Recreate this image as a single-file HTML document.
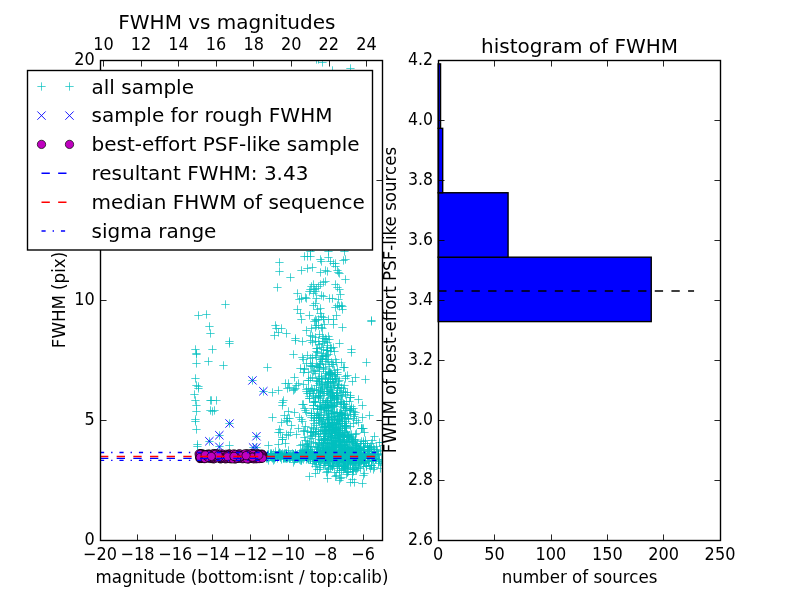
<!DOCTYPE html>
<html><head><meta charset="utf-8"><title>FWHM vs magnitudes</title>
<style>html,body{margin:0;padding:0;background:#fff;overflow:hidden}svg{display:block;will-change:transform}</style></head>
<body>
<svg width="800" height="600" viewBox="0 0 800 600" style="display:block">
<rect x="0" y="0" width="800" height="600" fill="#ffffff"/>
<defs>
<clipPath id="c1"><rect x="100.00" y="60.00" width="281.82" height="480.00"/></clipPath>
<clipPath id="c2"><rect x="438.18" y="60.00" width="281.82" height="480.00"/></clipPath>
<path id="pl" d="M-4.17 0H4.17M0 -4.17V4.17"/>
<path id="xx" d="M-4.17 -4.17L4.17 4.17M-4.17 4.17L4.17 -4.17"/>
<circle id="oo" r="4.17"/>
</defs>
<g clip-path="url(#c1)">
<path d="M319.3 436.5h8.3M323.5 432.3v8.3M315.3 444.5h8.3M319.5 440.3v8.3M333.3 420.5h8.3M337.5 416.3v8.3M362.3 362.5h8.3M366.5 358.3v8.3M327.3 390.5h8.3M331.5 386.3v8.3M324.3 395.5h8.3M328.5 391.3v8.3M329.3 430.5h8.3M333.5 426.3v8.3M336.3 392.5h8.3M340.5 388.3v8.3M337.3 414.5h8.3M341.5 410.3v8.3M340.3 413.5h8.3M344.5 409.3v8.3M328.3 422.5h8.3M332.5 418.3v8.3M344.3 455.5h8.3M348.5 451.3v8.3M299.3 359.5h8.3M303.5 355.3v8.3M308.3 435.5h8.3M312.5 431.3v8.3M341.3 457.5h8.3M345.5 453.3v8.3M305.3 393.5h8.3M309.5 389.3v8.3M338.3 452.5h8.3M342.5 448.3v8.3M320.3 324.5h8.3M324.5 320.3v8.3M324.3 374.5h8.3M328.5 370.3v8.3M334.3 427.5h8.3M338.5 423.3v8.3M336.3 457.5h8.3M340.5 453.3v8.3M339.3 458.5h8.3M343.5 454.3v8.3M322.3 408.5h8.3M326.5 404.3v8.3M330.3 438.5h8.3M334.5 434.3v8.3M365.3 415.5h8.3M369.5 411.3v8.3M341.3 408.5h8.3M345.5 404.3v8.3M332.3 395.5h8.3M336.5 391.3v8.3M334.3 423.5h8.3M338.5 419.3v8.3M312.3 348.5h8.3M316.5 344.3v8.3M333.3 433.5h8.3M337.5 429.3v8.3M329.3 459.5h8.3M333.5 455.3v8.3M343.3 434.5h8.3M347.5 430.3v8.3M319.3 446.5h8.3M323.5 442.3v8.3M299.3 431.5h8.3M303.5 427.3v8.3M324.3 452.5h8.3M328.5 448.3v8.3M337.3 415.5h8.3M341.5 411.3v8.3M338.3 327.5h8.3M342.5 323.3v8.3M339.3 404.5h8.3M343.5 400.3v8.3M313.3 381.5h8.3M317.5 377.3v8.3M326.3 427.5h8.3M330.5 423.3v8.3M320.3 458.5h8.3M324.5 454.3v8.3M323.3 400.5h8.3M327.5 396.3v8.3M319.3 447.5h8.3M323.5 443.3v8.3M309.3 431.5h8.3M313.5 427.3v8.3M322.3 339.5h8.3M326.5 335.3v8.3M327.3 393.5h8.3M331.5 389.3v8.3M322.3 385.5h8.3M326.5 381.3v8.3M336.3 442.5h8.3M340.5 438.3v8.3M354.3 422.5h8.3M358.5 418.3v8.3M331.3 432.5h8.3M335.5 428.3v8.3M325.3 436.5h8.3M329.5 432.3v8.3M337.3 401.5h8.3M341.5 397.3v8.3M310.3 455.5h8.3M314.5 451.3v8.3M337.3 413.5h8.3M341.5 409.3v8.3M319.3 436.5h8.3M323.5 432.3v8.3M322.3 359.5h8.3M326.5 355.3v8.3M343.3 392.5h8.3M347.5 388.3v8.3M319.3 419.5h8.3M323.5 415.3v8.3M343.3 435.5h8.3M347.5 431.3v8.3M335.3 434.5h8.3M339.5 430.3v8.3M312.3 446.5h8.3M316.5 442.3v8.3M340.3 423.5h8.3M344.5 419.3v8.3M314.3 378.5h8.3M318.5 374.3v8.3M306.3 365.5h8.3M310.5 361.3v8.3M317.3 407.5h8.3M321.5 403.3v8.3M321.3 440.5h8.3M325.5 436.3v8.3M338.3 433.5h8.3M342.5 429.3v8.3M320.3 438.5h8.3M324.5 434.3v8.3M346.3 410.5h8.3M350.5 406.3v8.3M331.3 416.5h8.3M335.5 412.3v8.3M322.3 454.5h8.3M326.5 450.3v8.3M319.3 443.5h8.3M323.5 439.3v8.3M328.3 396.5h8.3M332.5 392.3v8.3M304.3 452.5h8.3M308.5 448.3v8.3M300.3 437.5h8.3M304.5 433.3v8.3M318.3 430.5h8.3M322.5 426.3v8.3M340.3 445.5h8.3M344.5 441.3v8.3M330.3 419.5h8.3M334.5 415.3v8.3M333.3 458.5h8.3M337.5 454.3v8.3M318.3 356.5h8.3M322.5 352.3v8.3M328.3 456.5h8.3M332.5 452.3v8.3M304.3 380.5h8.3M308.5 376.3v8.3M343.3 447.5h8.3M347.5 443.3v8.3M326.3 400.5h8.3M330.5 396.3v8.3M330.3 397.5h8.3M334.5 393.3v8.3M324.3 354.5h8.3M328.5 350.3v8.3M335.3 450.5h8.3M339.5 446.3v8.3M336.3 445.5h8.3M340.5 441.3v8.3M321.3 423.5h8.3M325.5 419.3v8.3M307.3 366.5h8.3M311.5 362.3v8.3M325.3 366.5h8.3M329.5 362.3v8.3M341.3 392.5h8.3M345.5 388.3v8.3M344.3 436.5h8.3M348.5 432.3v8.3M323.3 402.5h8.3M327.5 398.3v8.3M335.3 415.5h8.3M339.5 411.3v8.3M327.3 458.5h8.3M331.5 454.3v8.3M334.3 429.5h8.3M338.5 425.3v8.3M313.3 352.5h8.3M317.5 348.3v8.3M328.3 407.5h8.3M332.5 403.3v8.3M359.3 443.5h8.3M363.5 439.3v8.3M354.3 459.5h8.3M358.5 455.3v8.3M316.3 387.5h8.3M320.5 383.3v8.3M314.3 367.5h8.3M318.5 363.3v8.3M327.3 413.5h8.3M331.5 409.3v8.3M340.3 455.5h8.3M344.5 451.3v8.3M329.3 454.5h8.3M333.5 450.3v8.3M339.3 406.5h8.3M343.5 402.3v8.3M317.3 376.5h8.3M321.5 372.3v8.3M351.3 451.5h8.3M355.5 447.3v8.3M342.3 431.5h8.3M346.5 427.3v8.3M311.3 397.5h8.3M315.5 393.3v8.3M339.3 439.5h8.3M343.5 435.3v8.3M327.3 440.5h8.3M331.5 436.3v8.3M341.3 418.5h8.3M345.5 414.3v8.3M320.3 412.5h8.3M324.5 408.3v8.3M336.3 428.5h8.3M340.5 424.3v8.3M306.3 449.5h8.3M310.5 445.3v8.3M330.3 419.5h8.3M334.5 415.3v8.3M327.3 422.5h8.3M331.5 418.3v8.3M342.3 425.5h8.3M346.5 421.3v8.3M333.3 438.5h8.3M337.5 434.3v8.3M310.3 401.5h8.3M314.5 397.3v8.3M323.3 350.5h8.3M327.5 346.3v8.3M320.3 438.5h8.3M324.5 434.3v8.3M324.3 407.5h8.3M328.5 403.3v8.3M314.3 341.5h8.3M318.5 337.3v8.3M333.3 419.5h8.3M337.5 415.3v8.3M306.3 340.5h8.3M310.5 336.3v8.3M315.3 439.5h8.3M319.5 435.3v8.3M301.3 426.5h8.3M305.5 422.3v8.3M357.3 428.5h8.3M361.5 424.3v8.3M315.3 417.5h8.3M319.5 413.3v8.3M312.3 365.5h8.3M316.5 361.3v8.3M314.3 436.5h8.3M318.5 432.3v8.3M323.3 449.5h8.3M327.5 445.3v8.3M315.3 344.5h8.3M319.5 340.3v8.3M330.3 376.5h8.3M334.5 372.3v8.3M335.3 458.5h8.3M339.5 454.3v8.3M330.3 402.5h8.3M334.5 398.3v8.3M312.3 325.5h8.3M316.5 321.3v8.3M327.3 417.5h8.3M331.5 413.3v8.3M347.3 437.5h8.3M351.5 433.3v8.3M324.3 387.5h8.3M328.5 383.3v8.3M329.3 395.5h8.3M333.5 391.3v8.3M303.3 443.5h8.3M307.5 439.3v8.3M338.3 439.5h8.3M342.5 435.3v8.3M334.3 435.5h8.3M338.5 431.3v8.3M348.3 439.5h8.3M352.5 435.3v8.3M333.3 458.5h8.3M337.5 454.3v8.3M328.3 428.5h8.3M332.5 424.3v8.3M326.3 397.5h8.3M330.5 393.3v8.3M323.3 450.5h8.3M327.5 446.3v8.3M328.3 396.5h8.3M332.5 392.3v8.3M337.3 421.5h8.3M341.5 417.3v8.3M330.3 435.5h8.3M334.5 431.3v8.3M318.3 361.5h8.3M322.5 357.3v8.3M323.3 419.5h8.3M327.5 415.3v8.3M327.3 405.5h8.3M331.5 401.3v8.3M320.3 426.5h8.3M324.5 422.3v8.3M300.3 368.5h8.3M304.5 364.3v8.3M346.3 426.5h8.3M350.5 422.3v8.3M308.3 455.5h8.3M312.5 451.3v8.3M329.3 441.5h8.3M333.5 437.3v8.3M314.3 452.5h8.3M318.5 448.3v8.3M327.3 446.5h8.3M331.5 442.3v8.3M317.3 440.5h8.3M321.5 436.3v8.3M330.3 444.5h8.3M334.5 440.3v8.3M315.3 406.5h8.3M319.5 402.3v8.3M313.3 447.5h8.3M317.5 443.3v8.3M336.3 451.5h8.3M340.5 447.3v8.3M351.3 457.5h8.3M355.5 453.3v8.3M323.3 350.5h8.3M327.5 346.3v8.3M330.3 430.5h8.3M334.5 426.3v8.3M313.3 409.5h8.3M317.5 405.3v8.3M325.3 405.5h8.3M329.5 401.3v8.3M338.3 455.5h8.3M342.5 451.3v8.3M320.3 424.5h8.3M324.5 420.3v8.3M340.3 425.5h8.3M344.5 421.3v8.3M331.3 455.5h8.3M335.5 451.3v8.3M335.3 441.5h8.3M339.5 437.3v8.3M319.3 400.5h8.3M323.5 396.3v8.3M317.3 379.5h8.3M321.5 375.3v8.3M301.3 184.5h8.3M305.5 180.3v8.3M332.3 423.5h8.3M336.5 419.3v8.3M314.3 417.5h8.3M318.5 413.3v8.3M319.3 427.5h8.3M323.5 423.3v8.3M330.3 444.5h8.3M334.5 440.3v8.3M304.3 388.5h8.3M308.5 384.3v8.3M332.3 362.5h8.3M336.5 358.3v8.3M335.3 441.5h8.3M339.5 437.3v8.3M331.3 444.5h8.3M335.5 440.3v8.3M320.3 439.5h8.3M324.5 435.3v8.3M337.3 414.5h8.3M341.5 410.3v8.3M352.3 420.5h8.3M356.5 416.3v8.3M337.3 452.5h8.3M341.5 448.3v8.3M309.3 420.5h8.3M313.5 416.3v8.3M332.3 393.5h8.3M336.5 389.3v8.3M322.3 431.5h8.3M326.5 427.3v8.3M324.3 448.5h8.3M328.5 444.3v8.3M325.3 423.5h8.3M329.5 419.3v8.3M327.3 427.5h8.3M331.5 423.3v8.3M330.3 413.5h8.3M334.5 409.3v8.3M331.3 378.5h8.3M335.5 374.3v8.3M337.3 446.5h8.3M341.5 442.3v8.3M320.3 430.5h8.3M324.5 426.3v8.3M310.3 418.5h8.3M314.5 414.3v8.3M314.3 396.5h8.3M318.5 392.3v8.3M332.3 422.5h8.3M336.5 418.3v8.3M332.3 378.5h8.3M336.5 374.3v8.3M350.3 414.5h8.3M354.5 410.3v8.3M313.3 457.5h8.3M317.5 453.3v8.3M318.3 336.5h8.3M322.5 332.3v8.3M327.3 442.5h8.3M331.5 438.3v8.3M316.3 363.5h8.3M320.5 359.3v8.3M319.3 338.5h8.3M323.5 334.3v8.3M327.3 445.5h8.3M331.5 441.3v8.3M328.3 456.5h8.3M332.5 452.3v8.3M320.3 433.5h8.3M324.5 429.3v8.3M335.3 440.5h8.3M339.5 436.3v8.3M338.3 396.5h8.3M342.5 392.3v8.3M347.3 406.5h8.3M351.5 402.3v8.3M323.3 443.5h8.3M327.5 439.3v8.3M317.3 455.5h8.3M321.5 451.3v8.3M324.3 420.5h8.3M328.5 416.3v8.3M319.3 443.5h8.3M323.5 439.3v8.3M333.3 369.5h8.3M337.5 365.3v8.3M314.3 396.5h8.3M318.5 392.3v8.3M331.3 445.5h8.3M335.5 441.3v8.3M309.3 405.5h8.3M313.5 401.3v8.3M324.3 434.5h8.3M328.5 430.3v8.3M308.3 247.5h8.3M312.5 243.3v8.3M352.3 445.5h8.3M356.5 441.3v8.3M315.3 378.5h8.3M319.5 374.3v8.3M330.3 399.5h8.3M334.5 395.3v8.3M301.3 440.5h8.3M305.5 436.3v8.3M314.3 448.5h8.3M318.5 444.3v8.3M318.3 424.5h8.3M322.5 420.3v8.3M323.3 443.5h8.3M327.5 439.3v8.3M335.3 420.5h8.3M339.5 416.3v8.3M306.3 432.5h8.3M310.5 428.3v8.3M329.3 382.5h8.3M333.5 378.3v8.3M308.3 357.5h8.3M312.5 353.3v8.3M350.3 416.5h8.3M354.5 412.3v8.3M332.3 429.5h8.3M336.5 425.3v8.3M332.3 440.5h8.3M336.5 436.3v8.3M324.3 411.5h8.3M328.5 407.3v8.3M319.3 349.5h8.3M323.5 345.3v8.3M331.3 452.5h8.3M335.5 448.3v8.3M312.3 357.5h8.3M316.5 353.3v8.3M330.3 370.5h8.3M334.5 366.3v8.3M333.3 435.5h8.3M337.5 431.3v8.3M340.3 441.5h8.3M344.5 437.3v8.3M328.3 432.5h8.3M332.5 428.3v8.3M335.3 413.5h8.3M339.5 409.3v8.3M319.3 440.5h8.3M323.5 436.3v8.3M361.3 379.5h8.3M365.5 375.3v8.3M322.3 455.5h8.3M326.5 451.3v8.3M318.3 382.5h8.3M322.5 378.3v8.3M345.3 453.5h8.3M349.5 449.3v8.3M342.3 408.5h8.3M346.5 404.3v8.3M307.3 446.5h8.3M311.5 442.3v8.3M309.3 395.5h8.3M313.5 391.3v8.3M318.3 453.5h8.3M322.5 449.3v8.3M316.3 406.5h8.3M320.5 402.3v8.3M328.3 446.5h8.3M332.5 442.3v8.3M346.3 458.5h8.3M350.5 454.3v8.3M321.3 429.5h8.3M325.5 425.3v8.3M338.3 450.5h8.3M342.5 446.3v8.3M341.3 432.5h8.3M345.5 428.3v8.3M350.3 443.5h8.3M354.5 439.3v8.3M328.3 444.5h8.3M332.5 440.3v8.3M311.3 337.5h8.3M315.5 333.3v8.3M340.3 437.5h8.3M344.5 433.3v8.3M341.3 394.5h8.3M345.5 390.3v8.3M319.3 408.5h8.3M323.5 404.3v8.3M351.3 412.5h8.3M355.5 408.3v8.3M355.3 452.5h8.3M359.5 448.3v8.3M327.3 449.5h8.3M331.5 445.3v8.3M307.3 432.5h8.3M311.5 428.3v8.3M315.3 367.5h8.3M319.5 363.3v8.3M321.3 404.5h8.3M325.5 400.3v8.3M332.3 398.5h8.3M336.5 394.3v8.3M307.3 427.5h8.3M311.5 423.3v8.3M358.3 417.5h8.3M362.5 413.3v8.3M363.3 445.5h8.3M367.5 441.3v8.3M316.3 391.5h8.3M320.5 387.3v8.3M306.3 459.5h8.3M310.5 455.3v8.3M318.3 358.5h8.3M322.5 354.3v8.3M336.3 441.5h8.3M340.5 437.3v8.3M313.3 203.5h8.3M317.5 199.3v8.3M334.3 397.5h8.3M338.5 393.3v8.3M319.3 368.5h8.3M323.5 364.3v8.3M302.3 389.5h8.3M306.5 385.3v8.3M333.3 416.5h8.3M337.5 412.3v8.3M325.3 339.5h8.3M329.5 335.3v8.3M320.3 386.5h8.3M324.5 382.3v8.3M320.3 341.5h8.3M324.5 337.3v8.3M330.3 424.5h8.3M334.5 420.3v8.3M326.3 437.5h8.3M330.5 433.3v8.3M308.3 342.5h8.3M312.5 338.3v8.3M330.3 406.5h8.3M334.5 402.3v8.3M339.3 391.5h8.3M343.5 387.3v8.3M316.3 433.5h8.3M320.5 429.3v8.3M328.3 379.5h8.3M332.5 375.3v8.3M316.3 392.5h8.3M320.5 388.3v8.3M330.3 404.5h8.3M334.5 400.3v8.3M324.3 419.5h8.3M328.5 415.3v8.3M338.3 451.5h8.3M342.5 447.3v8.3M314.3 397.5h8.3M318.5 393.3v8.3M308.3 451.5h8.3M312.5 447.3v8.3M325.3 430.5h8.3M329.5 426.3v8.3M309.3 428.5h8.3M313.5 424.3v8.3M313.3 366.5h8.3M317.5 362.3v8.3M306.3 436.5h8.3M310.5 432.3v8.3M329.3 425.5h8.3M333.5 421.3v8.3M323.3 423.5h8.3M327.5 419.3v8.3M323.3 382.5h8.3M327.5 378.3v8.3M351.3 377.5h8.3M355.5 373.3v8.3M334.3 454.5h8.3M338.5 450.3v8.3M328.3 392.5h8.3M332.5 388.3v8.3M330.3 385.5h8.3M334.5 381.3v8.3M329.3 454.5h8.3M333.5 450.3v8.3M311.3 327.5h8.3M315.5 323.3v8.3M326.3 347.5h8.3M330.5 343.3v8.3M341.3 425.5h8.3M345.5 421.3v8.3M329.3 454.5h8.3M333.5 450.3v8.3M322.3 410.5h8.3M326.5 406.3v8.3M315.3 371.5h8.3M319.5 367.3v8.3M346.3 436.5h8.3M350.5 432.3v8.3M318.3 391.5h8.3M322.5 387.3v8.3M333.3 388.5h8.3M337.5 384.3v8.3M321.3 426.5h8.3M325.5 422.3v8.3M324.3 439.5h8.3M328.5 435.3v8.3M336.3 412.5h8.3M340.5 408.3v8.3M315.3 383.5h8.3M319.5 379.3v8.3M327.3 440.5h8.3M331.5 436.3v8.3M316.3 451.5h8.3M320.5 447.3v8.3M318.3 450.5h8.3M322.5 446.3v8.3M338.3 430.5h8.3M342.5 426.3v8.3M339.3 453.5h8.3M343.5 449.3v8.3M314.3 442.5h8.3M318.5 438.3v8.3M315.3 455.5h8.3M319.5 451.3v8.3M358.3 405.5h8.3M362.5 401.3v8.3M319.3 417.5h8.3M323.5 413.3v8.3M316.3 418.5h8.3M320.5 414.3v8.3M338.3 449.5h8.3M342.5 445.3v8.3M319.3 442.5h8.3M323.5 438.3v8.3M326.3 449.5h8.3M330.5 445.3v8.3M342.3 441.5h8.3M346.5 437.3v8.3M343.3 435.5h8.3M347.5 431.3v8.3M326.3 435.5h8.3M330.5 431.3v8.3M348.3 441.5h8.3M352.5 437.3v8.3M329.3 456.5h8.3M333.5 452.3v8.3M325.3 430.5h8.3M329.5 426.3v8.3M331.3 450.5h8.3M335.5 446.3v8.3M327.3 454.5h8.3M331.5 450.3v8.3M333.3 412.5h8.3M337.5 408.3v8.3M333.3 435.5h8.3M337.5 431.3v8.3M311.3 341.5h8.3M315.5 337.3v8.3M331.3 429.5h8.3M335.5 425.3v8.3M317.3 384.5h8.3M321.5 380.3v8.3M323.3 456.5h8.3M327.5 452.3v8.3M328.3 447.5h8.3M332.5 443.3v8.3M334.3 384.5h8.3M338.5 380.3v8.3M332.3 428.5h8.3M336.5 424.3v8.3M343.3 415.5h8.3M347.5 411.3v8.3M354.3 459.5h8.3M358.5 455.3v8.3M319.3 355.5h8.3M323.5 351.3v8.3M317.3 389.5h8.3M321.5 385.3v8.3M319.3 440.5h8.3M323.5 436.3v8.3M334.3 442.5h8.3M338.5 438.3v8.3M333.3 388.5h8.3M337.5 384.3v8.3M352.3 446.5h8.3M356.5 442.3v8.3M308.3 377.5h8.3M312.5 373.3v8.3M340.3 426.5h8.3M344.5 422.3v8.3M339.3 407.5h8.3M343.5 403.3v8.3M359.3 428.5h8.3M363.5 424.3v8.3M331.3 455.5h8.3M335.5 451.3v8.3M307.3 413.5h8.3M311.5 409.3v8.3M317.3 417.5h8.3M321.5 413.3v8.3M307.3 328.5h8.3M311.5 324.3v8.3M310.3 370.5h8.3M314.5 366.3v8.3M317.3 427.5h8.3M321.5 423.3v8.3M305.3 398.5h8.3M309.5 394.3v8.3M321.3 373.5h8.3M325.5 369.3v8.3M324.3 361.5h8.3M328.5 357.3v8.3M341.3 446.5h8.3M345.5 442.3v8.3M323.3 391.5h8.3M327.5 387.3v8.3M344.3 437.5h8.3M348.5 433.3v8.3M345.3 440.5h8.3M349.5 436.3v8.3M309.3 442.5h8.3M313.5 438.3v8.3M324.3 422.5h8.3M328.5 418.3v8.3M312.3 380.5h8.3M316.5 376.3v8.3M331.3 431.5h8.3M335.5 427.3v8.3M324.3 406.5h8.3M328.5 402.3v8.3M329.3 324.5h8.3M333.5 320.3v8.3M359.3 447.5h8.3M363.5 443.3v8.3M337.3 453.5h8.3M341.5 449.3v8.3M324.3 413.5h8.3M328.5 409.3v8.3M327.3 433.5h8.3M331.5 429.3v8.3M323.3 342.5h8.3M327.5 338.3v8.3M316.3 395.5h8.3M320.5 391.3v8.3M339.3 448.5h8.3M343.5 444.3v8.3M325.3 429.5h8.3M329.5 425.3v8.3M333.3 374.5h8.3M337.5 370.3v8.3M349.3 442.5h8.3M353.5 438.3v8.3M355.3 450.5h8.3M359.5 446.3v8.3M325.3 418.5h8.3M329.5 414.3v8.3M310.3 415.5h8.3M314.5 411.3v8.3M308.3 457.5h8.3M312.5 453.3v8.3M325.3 427.5h8.3M329.5 423.3v8.3M310.3 423.5h8.3M314.5 419.3v8.3M306.3 391.5h8.3M310.5 387.3v8.3M327.3 455.5h8.3M331.5 451.3v8.3M311.3 373.5h8.3M315.5 369.3v8.3M339.3 436.5h8.3M343.5 432.3v8.3M346.3 395.5h8.3M350.5 391.3v8.3M327.3 440.5h8.3M331.5 436.3v8.3M321.3 338.5h8.3M325.5 334.3v8.3M307.3 388.5h8.3M311.5 384.3v8.3M335.3 459.5h8.3M339.5 455.3v8.3M321.3 447.5h8.3M325.5 443.3v8.3M314.3 420.5h8.3M318.5 416.3v8.3M306.3 459.5h8.3M310.5 455.3v8.3M339.3 367.5h8.3M343.5 363.3v8.3M310.3 459.5h8.3M314.5 455.3v8.3M315.3 454.5h8.3M319.5 450.3v8.3M317.3 327.5h8.3M321.5 323.3v8.3M323.3 359.5h8.3M327.5 355.3v8.3M326.3 378.5h8.3M330.5 374.3v8.3M331.3 435.5h8.3M335.5 431.3v8.3M315.3 395.5h8.3M319.5 391.3v8.3M337.3 417.5h8.3M341.5 413.3v8.3M309.3 393.5h8.3M313.5 389.3v8.3M352.3 433.5h8.3M356.5 429.3v8.3M334.3 385.5h8.3M338.5 381.3v8.3M309.3 432.5h8.3M313.5 428.3v8.3M308.3 366.5h8.3M312.5 362.3v8.3M318.3 402.5h8.3M322.5 398.3v8.3M323.3 459.5h8.3M327.5 455.3v8.3M331.3 359.5h8.3M335.5 355.3v8.3M307.3 417.5h8.3M311.5 413.3v8.3M326.3 387.5h8.3M330.5 383.3v8.3M291.3 189.5h8.3M295.5 185.3v8.3M337.3 434.5h8.3M341.5 430.3v8.3M331.3 427.5h8.3M335.5 423.3v8.3M322.3 431.5h8.3M326.5 427.3v8.3M360.3 432.5h8.3M364.5 428.3v8.3M330.3 447.5h8.3M334.5 443.3v8.3M346.3 447.5h8.3M350.5 443.3v8.3M312.3 429.5h8.3M316.5 425.3v8.3M318.3 343.5h8.3M322.5 339.3v8.3M324.3 381.5h8.3M328.5 377.3v8.3M334.3 457.5h8.3M338.5 453.3v8.3M317.3 359.5h8.3M321.5 355.3v8.3M316.3 409.5h8.3M320.5 405.3v8.3M291.3 340.5h8.3M295.5 336.3v8.3M315.3 364.5h8.3M319.5 360.3v8.3M318.3 445.5h8.3M322.5 441.3v8.3M329.3 456.5h8.3M333.5 452.3v8.3M343.3 451.5h8.3M347.5 447.3v8.3M354.3 399.5h8.3M358.5 395.3v8.3M335.3 421.5h8.3M339.5 417.3v8.3M344.3 437.5h8.3M348.5 433.3v8.3M341.3 456.5h8.3M345.5 452.3v8.3M341.3 444.5h8.3M345.5 440.3v8.3M328.3 364.5h8.3M332.5 360.3v8.3M322.3 391.5h8.3M326.5 387.3v8.3M327.3 453.5h8.3M331.5 449.3v8.3M337.3 456.5h8.3M341.5 452.3v8.3M358.3 459.5h8.3M362.5 455.3v8.3M338.3 423.5h8.3M342.5 419.3v8.3M349.3 423.5h8.3M353.5 419.3v8.3M309.3 402.5h8.3M313.5 398.3v8.3M335.3 445.5h8.3M339.5 441.3v8.3M336.3 440.5h8.3M340.5 436.3v8.3M329.3 383.5h8.3M333.5 379.3v8.3M309.3 405.5h8.3M313.5 401.3v8.3M305.3 441.5h8.3M309.5 437.3v8.3M299.3 372.5h8.3M303.5 368.3v8.3M324.3 426.5h8.3M328.5 422.3v8.3M365.3 453.5h8.3M369.5 449.3v8.3M325.3 374.5h8.3M329.5 370.3v8.3M314.3 431.5h8.3M318.5 427.3v8.3M328.3 392.5h8.3M332.5 388.3v8.3M324.3 414.5h8.3M328.5 410.3v8.3M318.3 328.5h8.3M322.5 324.3v8.3M316.3 359.5h8.3M320.5 355.3v8.3M306.3 358.5h8.3M310.5 354.3v8.3M323.3 440.5h8.3M327.5 436.3v8.3M324.3 336.5h8.3M328.5 332.3v8.3M334.3 436.5h8.3M338.5 432.3v8.3M350.3 457.5h8.3M354.5 453.3v8.3M315.3 422.5h8.3M319.5 418.3v8.3M342.3 421.5h8.3M346.5 417.3v8.3M332.3 447.5h8.3M336.5 443.3v8.3M324.3 371.5h8.3M328.5 367.3v8.3M342.3 401.5h8.3M346.5 397.3v8.3M323.3 391.5h8.3M327.5 387.3v8.3M334.3 434.5h8.3M338.5 430.3v8.3M332.3 395.5h8.3M336.5 391.3v8.3M339.3 436.5h8.3M343.5 432.3v8.3M337.3 404.5h8.3M341.5 400.3v8.3M349.3 439.5h8.3M353.5 435.3v8.3M333.3 399.5h8.3M337.5 395.3v8.3M323.3 417.5h8.3M327.5 413.3v8.3M347.3 352.5h8.3M351.5 348.3v8.3M327.3 413.5h8.3M331.5 409.3v8.3M335.3 432.5h8.3M339.5 428.3v8.3M316.3 398.5h8.3M320.5 394.3v8.3M302.3 452.5h8.3M306.5 448.3v8.3M317.3 409.5h8.3M321.5 405.3v8.3M324.3 379.5h8.3M328.5 375.3v8.3M339.3 442.5h8.3M343.5 438.3v8.3M328.3 412.5h8.3M332.5 408.3v8.3M333.3 387.5h8.3M337.5 383.3v8.3M312.3 213.5h8.3M316.5 209.3v8.3M344.3 436.5h8.3M348.5 432.3v8.3M326.3 394.5h8.3M330.5 390.3v8.3M329.3 411.5h8.3M333.5 407.3v8.3M316.3 405.5h8.3M320.5 401.3v8.3M351.3 440.5h8.3M355.5 436.3v8.3M309.3 371.5h8.3M313.5 367.3v8.3M331.3 446.5h8.3M335.5 442.3v8.3M330.3 406.5h8.3M334.5 402.3v8.3M298.3 357.5h8.3M302.5 353.3v8.3M338.3 414.5h8.3M342.5 410.3v8.3M325.3 372.5h8.3M329.5 368.3v8.3M319.3 369.5h8.3M323.5 365.3v8.3M311.3 431.5h8.3M315.5 427.3v8.3M326.3 389.5h8.3M330.5 385.3v8.3M335.3 380.5h8.3M339.5 376.3v8.3M307.3 415.5h8.3M311.5 411.3v8.3M329.3 347.5h8.3M333.5 343.3v8.3M344.3 453.5h8.3M348.5 449.3v8.3M333.3 387.5h8.3M337.5 383.3v8.3M336.3 430.5h8.3M340.5 426.3v8.3M321.3 433.5h8.3M325.5 429.3v8.3M335.3 419.5h8.3M339.5 415.3v8.3M325.3 426.5h8.3M329.5 422.3v8.3M372.3 446.5h8.3M376.5 442.3v8.3M328.3 437.5h8.3M332.5 433.3v8.3M312.3 385.5h8.3M316.5 381.3v8.3M323.3 407.5h8.3M327.5 403.3v8.3M351.3 439.5h8.3M355.5 435.3v8.3M326.3 460.5h8.3M330.5 456.3v8.3M296.3 368.5h8.3M300.5 364.3v8.3M353.3 454.5h8.3M357.5 450.3v8.3M337.3 447.5h8.3M341.5 443.3v8.3M324.3 436.5h8.3M328.5 432.3v8.3M340.3 432.5h8.3M344.5 428.3v8.3M313.3 413.5h8.3M317.5 409.3v8.3M322.3 415.5h8.3M326.5 411.3v8.3M326.3 351.5h8.3M330.5 347.3v8.3M332.3 445.5h8.3M336.5 441.3v8.3M335.3 458.5h8.3M339.5 454.3v8.3M304.3 447.5h8.3M308.5 443.3v8.3M329.3 364.5h8.3M333.5 360.3v8.3M323.3 426.5h8.3M327.5 422.3v8.3M340.3 417.5h8.3M344.5 413.3v8.3M330.3 416.5h8.3M334.5 412.3v8.3M353.3 453.5h8.3M357.5 449.3v8.3M322.3 401.5h8.3M326.5 397.3v8.3M301.3 410.5h8.3M305.5 406.3v8.3M327.3 444.5h8.3M331.5 440.3v8.3M336.3 428.5h8.3M340.5 424.3v8.3M317.3 347.5h8.3M321.5 343.3v8.3M324.3 427.5h8.3M328.5 423.3v8.3M354.3 455.5h8.3M358.5 451.3v8.3M329.3 443.5h8.3M333.5 439.3v8.3M329.3 405.5h8.3M333.5 401.3v8.3M309.3 408.5h8.3M313.5 404.3v8.3M324.3 410.5h8.3M328.5 406.3v8.3M333.3 424.5h8.3M337.5 420.3v8.3M318.3 421.5h8.3M322.5 417.3v8.3M311.3 434.5h8.3M315.5 430.3v8.3M315.3 414.5h8.3M319.5 410.3v8.3M323.3 433.5h8.3M327.5 429.3v8.3M319.3 444.5h8.3M323.5 440.3v8.3M318.3 388.5h8.3M322.5 384.3v8.3M335.3 343.5h8.3M339.5 339.3v8.3M326.3 372.5h8.3M330.5 368.3v8.3M321.3 449.5h8.3M325.5 445.3v8.3M330.3 429.5h8.3M334.5 425.3v8.3M346.3 397.5h8.3M350.5 393.3v8.3M327.3 348.5h8.3M331.5 344.3v8.3M328.3 422.5h8.3M332.5 418.3v8.3M313.3 447.5h8.3M317.5 443.3v8.3M304.3 372.5h8.3M308.5 368.3v8.3M315.3 334.5h8.3M319.5 330.3v8.3M322.3 375.5h8.3M326.5 371.3v8.3M305.3 396.5h8.3M309.5 392.3v8.3M312.3 425.5h8.3M316.5 421.3v8.3M326.3 406.5h8.3M330.5 402.3v8.3M298.3 404.5h8.3M302.5 400.3v8.3M307.3 438.5h8.3M311.5 434.3v8.3M329.3 429.5h8.3M333.5 425.3v8.3M340.3 449.5h8.3M344.5 445.3v8.3M336.3 445.5h8.3M340.5 441.3v8.3M342.3 428.5h8.3M346.5 424.3v8.3M355.3 457.5h8.3M359.5 453.3v8.3M333.3 372.5h8.3M337.5 368.3v8.3M327.3 433.5h8.3M331.5 429.3v8.3M361.3 440.5h8.3M365.5 436.3v8.3M349.3 408.5h8.3M353.5 404.3v8.3M344.3 441.5h8.3M348.5 437.3v8.3M298.3 222.5h8.3M302.5 218.3v8.3M338.3 454.5h8.3M342.5 450.3v8.3M303.3 446.5h8.3M307.5 442.3v8.3M319.3 367.5h8.3M323.5 363.3v8.3M283.3 220.5h8.3M287.5 216.3v8.3M347.3 455.5h8.3M351.5 451.3v8.3M331.3 438.5h8.3M335.5 434.3v8.3M341.3 378.5h8.3M345.5 374.3v8.3M327.3 405.5h8.3M331.5 401.3v8.3M328.3 405.5h8.3M332.5 401.3v8.3M329.3 454.5h8.3M333.5 450.3v8.3M335.3 419.5h8.3M339.5 415.3v8.3M331.3 443.5h8.3M335.5 439.3v8.3M344.3 418.5h8.3M348.5 414.3v8.3M355.3 450.5h8.3M359.5 446.3v8.3M323.3 345.5h8.3M327.5 341.3v8.3M313.3 408.5h8.3M317.5 404.3v8.3M336.3 423.5h8.3M340.5 419.3v8.3M351.3 443.5h8.3M355.5 439.3v8.3M336.3 412.5h8.3M340.5 408.3v8.3M319.3 319.5h8.3M323.5 315.3v8.3M345.3 448.5h8.3M349.5 444.3v8.3M339.3 388.5h8.3M343.5 384.3v8.3M346.3 397.5h8.3M350.5 393.3v8.3M342.3 441.5h8.3M346.5 437.3v8.3M327.3 362.5h8.3M331.5 358.3v8.3M319.3 393.5h8.3M323.5 389.3v8.3M326.3 374.5h8.3M330.5 370.3v8.3M306.3 335.5h8.3M310.5 331.3v8.3M336.3 402.5h8.3M340.5 398.3v8.3M334.3 456.5h8.3M338.5 452.3v8.3M346.3 409.5h8.3M350.5 405.3v8.3M340.3 436.5h8.3M344.5 432.3v8.3M329.3 440.5h8.3M333.5 436.3v8.3M334.3 452.5h8.3M338.5 448.3v8.3M340.3 440.5h8.3M344.5 436.3v8.3M336.3 458.5h8.3M340.5 454.3v8.3M338.3 435.5h8.3M342.5 431.3v8.3M321.3 432.5h8.3M325.5 428.3v8.3M312.3 390.5h8.3M316.5 386.3v8.3M320.3 408.5h8.3M324.5 404.3v8.3M310.3 389.5h8.3M314.5 385.3v8.3M310.3 321.5h8.3M314.5 317.3v8.3M327.3 373.5h8.3M331.5 369.3v8.3M303.3 355.5h8.3M307.5 351.3v8.3M311.3 402.5h8.3M315.5 398.3v8.3M343.3 448.5h8.3M347.5 444.3v8.3M325.3 449.5h8.3M329.5 445.3v8.3M329.3 417.5h8.3M333.5 413.3v8.3M311.3 401.5h8.3M315.5 397.3v8.3M314.3 390.5h8.3M318.5 386.3v8.3M324.3 410.5h8.3M328.5 406.3v8.3M349.3 411.5h8.3M353.5 407.3v8.3M328.3 375.5h8.3M332.5 371.3v8.3M306.3 378.5h8.3M310.5 374.3v8.3M333.3 402.5h8.3M337.5 398.3v8.3M339.3 403.5h8.3M343.5 399.3v8.3M338.3 423.5h8.3M342.5 419.3v8.3M314.3 434.5h8.3M318.5 430.3v8.3M331.3 447.5h8.3M335.5 443.3v8.3M320.3 453.5h8.3M324.5 449.3v8.3M332.3 412.5h8.3M336.5 408.3v8.3M320.3 426.5h8.3M324.5 422.3v8.3M308.3 336.5h8.3M312.5 332.3v8.3M328.3 458.5h8.3M332.5 454.3v8.3M340.3 404.5h8.3M344.5 400.3v8.3M348.3 441.5h8.3M352.5 437.3v8.3M315.3 381.5h8.3M319.5 377.3v8.3M321.3 404.5h8.3M325.5 400.3v8.3M321.3 457.5h8.3M325.5 453.3v8.3M300.3 369.5h8.3M304.5 365.3v8.3M331.3 379.5h8.3M335.5 375.3v8.3M356.3 460.5h8.3M360.5 456.3v8.3M347.3 408.5h8.3M351.5 404.3v8.3M325.3 443.5h8.3M329.5 439.3v8.3M352.3 456.5h8.3M356.5 452.3v8.3M337.3 387.5h8.3M341.5 383.3v8.3M326.3 436.5h8.3M330.5 432.3v8.3M326.3 398.5h8.3M330.5 394.3v8.3M328.3 450.5h8.3M332.5 446.3v8.3M326.3 373.5h8.3M330.5 369.3v8.3M343.3 375.5h8.3M347.5 371.3v8.3M311.3 355.5h8.3M315.5 351.3v8.3M317.3 454.5h8.3M321.5 450.3v8.3M334.3 381.5h8.3M338.5 377.3v8.3M322.3 355.5h8.3M326.5 351.3v8.3M317.3 423.5h8.3M321.5 419.3v8.3M312.3 351.5h8.3M316.5 347.3v8.3M324.3 448.5h8.3M328.5 444.3v8.3M328.3 381.5h8.3M332.5 377.3v8.3M337.3 395.5h8.3M341.5 391.3v8.3M328.3 424.5h8.3M332.5 420.3v8.3M334.3 439.5h8.3M338.5 435.3v8.3M322.3 442.5h8.3M326.5 438.3v8.3M340.3 404.5h8.3M344.5 400.3v8.3M351.3 444.5h8.3M355.5 440.3v8.3M328.3 443.5h8.3M332.5 439.3v8.3M322.3 449.5h8.3M326.5 445.3v8.3M357.3 428.5h8.3M361.5 424.3v8.3M346.3 449.5h8.3M350.5 445.3v8.3M320.3 448.5h8.3M324.5 444.3v8.3M307.3 413.5h8.3M311.5 409.3v8.3M326.3 425.5h8.3M330.5 421.3v8.3M349.3 448.5h8.3M353.5 444.3v8.3M326.3 454.5h8.3M330.5 450.3v8.3M327.3 430.5h8.3M331.5 426.3v8.3M324.3 426.5h8.3M328.5 422.3v8.3M333.3 395.5h8.3M337.5 391.3v8.3M340.3 385.5h8.3M344.5 381.3v8.3M308.3 363.5h8.3M312.5 359.3v8.3M323.3 402.5h8.3M327.5 398.3v8.3M330.3 451.5h8.3M334.5 447.3v8.3M317.3 378.5h8.3M321.5 374.3v8.3M316.3 451.5h8.3M320.5 447.3v8.3M343.3 442.5h8.3M347.5 438.3v8.3M332.3 430.5h8.3M336.5 426.3v8.3M331.3 374.5h8.3M335.5 370.3v8.3M354.3 448.5h8.3M358.5 444.3v8.3M314.3 325.5h8.3M318.5 321.3v8.3M340.3 449.5h8.3M344.5 445.3v8.3M328.3 453.5h8.3M332.5 449.3v8.3M321.3 364.5h8.3M325.5 360.3v8.3M338.3 456.5h8.3M342.5 452.3v8.3M323.3 383.5h8.3M327.5 379.3v8.3M285.3 166.5h8.3M289.5 162.3v8.3M355.3 457.5h8.3M359.5 453.3v8.3M335.3 445.5h8.3M339.5 441.3v8.3M314.3 415.5h8.3M318.5 411.3v8.3M300.3 408.5h8.3M304.5 404.3v8.3M325.3 391.5h8.3M329.5 387.3v8.3M342.3 447.5h8.3M346.5 443.3v8.3M348.3 459.5h8.3M352.5 455.3v8.3M344.3 419.5h8.3M348.5 415.3v8.3M321.3 384.5h8.3M325.5 380.3v8.3M342.3 451.5h8.3M346.5 447.3v8.3M311.3 443.5h8.3M315.5 439.3v8.3M334.3 437.5h8.3M338.5 433.3v8.3M342.3 427.5h8.3M346.5 423.3v8.3M320.3 407.5h8.3M324.5 403.3v8.3M327.3 416.5h8.3M331.5 412.3v8.3M322.3 350.5h8.3M326.5 346.3v8.3M327.3 386.5h8.3M331.5 382.3v8.3M355.3 458.5h8.3M359.5 454.3v8.3M337.3 362.5h8.3M341.5 358.3v8.3M313.3 348.5h8.3M317.5 344.3v8.3M321.3 438.5h8.3M325.5 434.3v8.3M331.3 445.5h8.3M335.5 441.3v8.3M321.3 402.5h8.3M325.5 398.3v8.3M335.3 416.5h8.3M339.5 412.3v8.3M327.3 400.5h8.3M331.5 396.3v8.3M358.3 428.5h8.3M362.5 424.3v8.3M335.3 426.5h8.3M339.5 422.3v8.3M321.3 377.5h8.3M325.5 373.3v8.3M334.3 418.5h8.3M338.5 414.3v8.3M333.3 395.5h8.3M337.5 391.3v8.3M328.3 431.5h8.3M332.5 427.3v8.3M317.3 445.5h8.3M321.5 441.3v8.3M322.3 448.5h8.3M326.5 444.3v8.3M326.3 381.5h8.3M330.5 377.3v8.3M330.3 351.5h8.3M334.5 347.3v8.3M340.3 453.5h8.3M344.5 449.3v8.3M329.3 427.5h8.3M333.5 423.3v8.3M340.3 445.5h8.3M344.5 441.3v8.3M321.3 407.5h8.3M325.5 403.3v8.3M330.3 398.5h8.3M334.5 394.3v8.3M345.3 401.5h8.3M349.5 397.3v8.3M347.3 438.5h8.3M351.5 434.3v8.3M345.3 410.5h8.3M349.5 406.3v8.3M327.3 442.5h8.3M331.5 438.3v8.3M335.3 445.5h8.3M339.5 441.3v8.3M319.3 452.5h8.3M323.5 448.3v8.3M347.3 456.5h8.3M351.5 452.3v8.3M325.3 425.5h8.3M329.5 421.3v8.3M312.3 417.5h8.3M316.5 413.3v8.3M327.3 455.5h8.3M331.5 451.3v8.3M337.3 452.5h8.3M341.5 448.3v8.3M302.3 445.5h8.3M306.5 441.3v8.3M314.3 458.5h8.3M318.5 454.3v8.3M345.3 435.5h8.3M349.5 431.3v8.3M331.3 427.5h8.3M335.5 423.3v8.3M321.3 356.5h8.3M325.5 352.3v8.3M308.3 390.5h8.3M312.5 386.3v8.3M341.3 376.5h8.3M345.5 372.3v8.3M341.3 410.5h8.3M345.5 406.3v8.3M338.3 418.5h8.3M342.5 414.3v8.3M316.3 431.5h8.3M320.5 427.3v8.3M349.3 453.5h8.3M353.5 449.3v8.3M328.3 447.5h8.3M332.5 443.3v8.3M329.3 445.5h8.3M333.5 441.3v8.3M327.3 451.5h8.3M331.5 447.3v8.3M341.3 448.5h8.3M345.5 444.3v8.3M321.3 378.5h8.3M325.5 374.3v8.3M327.3 437.5h8.3M331.5 433.3v8.3M311.3 433.5h8.3M315.5 429.3v8.3M305.3 398.5h8.3M309.5 394.3v8.3M341.3 415.5h8.3M345.5 411.3v8.3M349.3 418.5h8.3M353.5 414.3v8.3M341.3 426.5h8.3M345.5 422.3v8.3M351.3 434.5h8.3M355.5 430.3v8.3M323.3 423.5h8.3M327.5 419.3v8.3M332.3 446.5h8.3M336.5 442.3v8.3M332.3 403.5h8.3M336.5 399.3v8.3M331.3 456.5h8.3M335.5 452.3v8.3M356.3 448.5h8.3M360.5 444.3v8.3M312.3 415.5h8.3M316.5 411.3v8.3M320.3 393.5h8.3M324.5 389.3v8.3M317.3 353.5h8.3M321.5 349.3v8.3M335.3 390.5h8.3M339.5 386.3v8.3M347.3 434.5h8.3M351.5 430.3v8.3M345.3 442.5h8.3M349.5 438.3v8.3M335.3 434.5h8.3M339.5 430.3v8.3M346.3 414.5h8.3M350.5 410.3v8.3M367.3 460.5h8.3M371.5 456.3v8.3M353.3 457.5h8.3M357.5 453.3v8.3M334.3 454.5h8.3M338.5 450.3v8.3M316.3 457.5h8.3M320.5 453.3v8.3M331.3 452.5h8.3M335.5 448.3v8.3M293.3 454.5h8.3M297.5 450.3v8.3M334.3 457.5h8.3M338.5 453.3v8.3M338.3 460.5h8.3M342.5 456.3v8.3M358.3 458.5h8.3M362.5 454.3v8.3M289.3 454.5h8.3M293.5 450.3v8.3M344.3 460.5h8.3M348.5 456.3v8.3M335.3 460.5h8.3M339.5 456.3v8.3M373.3 451.5h8.3M377.5 447.3v8.3M331.3 457.5h8.3M335.5 453.3v8.3M293.3 458.5h8.3M297.5 454.3v8.3M311.3 457.5h8.3M315.5 453.3v8.3M313.3 456.5h8.3M317.5 452.3v8.3M289.3 455.5h8.3M293.5 451.3v8.3M363.3 446.5h8.3M367.5 442.3v8.3M348.3 450.5h8.3M352.5 446.3v8.3M347.3 452.5h8.3M351.5 448.3v8.3M335.3 456.5h8.3M339.5 452.3v8.3M297.3 458.5h8.3M301.5 454.3v8.3M333.3 456.5h8.3M337.5 452.3v8.3M311.3 460.5h8.3M315.5 456.3v8.3M370.3 453.5h8.3M374.5 449.3v8.3M344.3 450.5h8.3M348.5 446.3v8.3M349.3 453.5h8.3M353.5 449.3v8.3M367.3 455.5h8.3M371.5 451.3v8.3M332.3 459.5h8.3M336.5 455.3v8.3M275.3 452.5h8.3M279.5 448.3v8.3M347.3 450.5h8.3M351.5 446.3v8.3M376.3 468.5h8.3M380.5 464.3v8.3M316.3 453.5h8.3M320.5 449.3v8.3M352.3 453.5h8.3M356.5 449.3v8.3M288.3 456.5h8.3M292.5 452.3v8.3M342.3 455.5h8.3M346.5 451.3v8.3M274.3 456.5h8.3M278.5 452.3v8.3M312.3 453.5h8.3M316.5 449.3v8.3M371.3 458.5h8.3M375.5 454.3v8.3M344.3 455.5h8.3M348.5 451.3v8.3M344.3 455.5h8.3M348.5 451.3v8.3M309.3 459.5h8.3M313.5 455.3v8.3M353.3 443.5h8.3M357.5 439.3v8.3M342.3 456.5h8.3M346.5 452.3v8.3M322.3 455.5h8.3M326.5 451.3v8.3M311.3 457.5h8.3M315.5 453.3v8.3M360.3 447.5h8.3M364.5 443.3v8.3M355.3 458.5h8.3M359.5 454.3v8.3M320.3 454.5h8.3M324.5 450.3v8.3M334.3 457.5h8.3M338.5 453.3v8.3M291.3 458.5h8.3M295.5 454.3v8.3M367.3 465.5h8.3M371.5 461.3v8.3M323.3 458.5h8.3M327.5 454.3v8.3M340.3 457.5h8.3M344.5 453.3v8.3M314.3 458.5h8.3M318.5 454.3v8.3M303.3 457.5h8.3M307.5 453.3v8.3M290.3 455.5h8.3M294.5 451.3v8.3M296.3 453.5h8.3M300.5 449.3v8.3M295.3 459.5h8.3M299.5 455.3v8.3M365.3 449.5h8.3M369.5 445.3v8.3M356.3 451.5h8.3M360.5 447.3v8.3M343.3 456.5h8.3M347.5 452.3v8.3M342.3 452.5h8.3M346.5 448.3v8.3M354.3 458.5h8.3M358.5 454.3v8.3M369.3 447.5h8.3M373.5 443.3v8.3M330.3 458.5h8.3M334.5 454.3v8.3M370.3 467.5h8.3M374.5 463.3v8.3M297.3 460.5h8.3M301.5 456.3v8.3M359.3 441.5h8.3M363.5 437.3v8.3M323.3 461.5h8.3M327.5 457.3v8.3M369.3 469.5h8.3M373.5 465.3v8.3M342.3 456.5h8.3M346.5 452.3v8.3M334.3 453.5h8.3M338.5 449.3v8.3M363.3 454.5h8.3M367.5 450.3v8.3M322.3 455.5h8.3M326.5 451.3v8.3M320.3 453.5h8.3M324.5 449.3v8.3M310.3 456.5h8.3M314.5 452.3v8.3M280.3 455.5h8.3M284.5 451.3v8.3M320.3 454.5h8.3M324.5 450.3v8.3M298.3 455.5h8.3M302.5 451.3v8.3M294.3 458.5h8.3M298.5 454.3v8.3M308.3 454.5h8.3M312.5 450.3v8.3M348.3 463.5h8.3M352.5 459.3v8.3M334.3 452.5h8.3M338.5 448.3v8.3M368.3 454.5h8.3M372.5 450.3v8.3M302.3 452.5h8.3M306.5 448.3v8.3M312.3 455.5h8.3M316.5 451.3v8.3M374.3 454.5h8.3M378.5 450.3v8.3M315.3 459.5h8.3M319.5 455.3v8.3M289.3 455.5h8.3M293.5 451.3v8.3M348.3 454.5h8.3M352.5 450.3v8.3M310.3 455.5h8.3M314.5 451.3v8.3M316.3 457.5h8.3M320.5 453.3v8.3M357.3 457.5h8.3M361.5 453.3v8.3M360.3 462.5h8.3M364.5 458.3v8.3M357.3 459.5h8.3M361.5 455.3v8.3M338.3 444.5h8.3M342.5 440.3v8.3M319.3 454.5h8.3M323.5 450.3v8.3M355.3 463.5h8.3M359.5 459.3v8.3M349.3 461.5h8.3M353.5 457.3v8.3M354.3 453.5h8.3M358.5 449.3v8.3M356.3 449.5h8.3M360.5 445.3v8.3M316.3 455.5h8.3M320.5 451.3v8.3M341.3 452.5h8.3M345.5 448.3v8.3M345.3 456.5h8.3M349.5 452.3v8.3M339.3 465.5h8.3M343.5 461.3v8.3M378.3 465.5h8.3M382.5 461.3v8.3M288.3 457.5h8.3M292.5 453.3v8.3M306.3 458.5h8.3M310.5 454.3v8.3M303.3 452.5h8.3M307.5 448.3v8.3M336.3 458.5h8.3M340.5 454.3v8.3M305.3 452.5h8.3M309.5 448.3v8.3M368.3 457.5h8.3M372.5 453.3v8.3M298.3 453.5h8.3M302.5 449.3v8.3M313.3 456.5h8.3M317.5 452.3v8.3M336.3 453.5h8.3M340.5 449.3v8.3M336.3 458.5h8.3M340.5 454.3v8.3M363.3 455.5h8.3M367.5 451.3v8.3M378.3 453.5h8.3M382.5 449.3v8.3M327.3 454.5h8.3M331.5 450.3v8.3M305.3 454.5h8.3M309.5 450.3v8.3M323.3 454.5h8.3M327.5 450.3v8.3M306.3 452.5h8.3M310.5 448.3v8.3M314.3 453.5h8.3M318.5 449.3v8.3M371.3 459.5h8.3M375.5 455.3v8.3M333.3 466.5h8.3M337.5 462.3v8.3M357.3 457.5h8.3M361.5 453.3v8.3M322.3 459.5h8.3M326.5 455.3v8.3M374.3 463.5h8.3M378.5 459.3v8.3M322.3 457.5h8.3M326.5 453.3v8.3M363.3 458.5h8.3M367.5 454.3v8.3M333.3 457.5h8.3M337.5 453.3v8.3M352.3 445.5h8.3M356.5 441.3v8.3M313.3 457.5h8.3M317.5 453.3v8.3M335.3 452.5h8.3M339.5 448.3v8.3M329.3 458.5h8.3M333.5 454.3v8.3M296.3 453.5h8.3M300.5 449.3v8.3M344.3 450.5h8.3M348.5 446.3v8.3M374.3 461.5h8.3M378.5 457.3v8.3M360.3 449.5h8.3M364.5 445.3v8.3M333.3 457.5h8.3M337.5 453.3v8.3M348.3 451.5h8.3M352.5 447.3v8.3M314.3 453.5h8.3M318.5 449.3v8.3M356.3 454.5h8.3M360.5 450.3v8.3M375.3 442.5h8.3M379.5 438.3v8.3M340.3 466.5h8.3M344.5 462.3v8.3M315.3 458.5h8.3M319.5 454.3v8.3M321.3 457.5h8.3M325.5 453.3v8.3M315.3 462.5h8.3M319.5 458.3v8.3M293.3 458.5h8.3M297.5 454.3v8.3M368.3 460.5h8.3M372.5 456.3v8.3M367.3 451.5h8.3M371.5 447.3v8.3M356.3 446.5h8.3M360.5 442.3v8.3M361.3 454.5h8.3M365.5 450.3v8.3M337.3 456.5h8.3M341.5 452.3v8.3M292.3 455.5h8.3M296.5 451.3v8.3M325.3 460.5h8.3M329.5 456.3v8.3M297.3 460.5h8.3M301.5 456.3v8.3M329.3 451.5h8.3M333.5 447.3v8.3M273.3 455.5h8.3M277.5 451.3v8.3M341.3 457.5h8.3M345.5 453.3v8.3M320.3 455.5h8.3M324.5 451.3v8.3M348.3 452.5h8.3M352.5 448.3v8.3M354.3 462.5h8.3M358.5 458.3v8.3M361.3 443.5h8.3M365.5 439.3v8.3M349.3 456.5h8.3M353.5 452.3v8.3M335.3 459.5h8.3M339.5 455.3v8.3M319.3 451.5h8.3M323.5 447.3v8.3M324.3 452.5h8.3M328.5 448.3v8.3M296.3 456.5h8.3M300.5 452.3v8.3M334.3 456.5h8.3M338.5 452.3v8.3M342.3 456.5h8.3M346.5 452.3v8.3M370.3 449.5h8.3M374.5 445.3v8.3M341.3 450.5h8.3M345.5 446.3v8.3M320.3 459.5h8.3M324.5 455.3v8.3M304.3 449.5h8.3M308.5 445.3v8.3M330.3 454.5h8.3M334.5 450.3v8.3M335.3 452.5h8.3M339.5 448.3v8.3M354.3 453.5h8.3M358.5 449.3v8.3M379.3 445.5h8.3M383.5 441.3v8.3M310.3 456.5h8.3M314.5 452.3v8.3M340.3 459.5h8.3M344.5 455.3v8.3M328.3 457.5h8.3M332.5 453.3v8.3M370.3 456.5h8.3M374.5 452.3v8.3M357.3 450.5h8.3M361.5 446.3v8.3M296.3 454.5h8.3M300.5 450.3v8.3M367.3 443.5h8.3M371.5 439.3v8.3M345.3 454.5h8.3M349.5 450.3v8.3M363.3 447.5h8.3M367.5 443.3v8.3M313.3 458.5h8.3M317.5 454.3v8.3M336.3 458.5h8.3M340.5 454.3v8.3M361.3 456.5h8.3M365.5 452.3v8.3M308.3 455.5h8.3M312.5 451.3v8.3M298.3 452.5h8.3M302.5 448.3v8.3M310.3 461.5h8.3M314.5 457.3v8.3M302.3 456.5h8.3M306.5 452.3v8.3M311.3 456.5h8.3M315.5 452.3v8.3M286.3 455.5h8.3M290.5 451.3v8.3M304.3 458.5h8.3M308.5 454.3v8.3M338.3 455.5h8.3M342.5 451.3v8.3M358.3 458.5h8.3M362.5 454.3v8.3M375.3 459.5h8.3M379.5 455.3v8.3M324.3 457.5h8.3M328.5 453.3v8.3M376.3 450.5h8.3M380.5 446.3v8.3M364.3 456.5h8.3M368.5 452.3v8.3M348.3 451.5h8.3M352.5 447.3v8.3M317.3 460.5h8.3M321.5 456.3v8.3M347.3 456.5h8.3M351.5 452.3v8.3M282.3 458.5h8.3M286.5 454.3v8.3M378.3 463.5h8.3M382.5 459.3v8.3M279.3 458.5h8.3M283.5 454.3v8.3M316.3 452.5h8.3M320.5 448.3v8.3M320.3 456.5h8.3M324.5 452.3v8.3M329.3 457.5h8.3M333.5 453.3v8.3M300.3 457.5h8.3M304.5 453.3v8.3M300.3 455.5h8.3M304.5 451.3v8.3M344.3 451.5h8.3M348.5 447.3v8.3M349.3 455.5h8.3M353.5 451.3v8.3M344.3 454.5h8.3M348.5 450.3v8.3M363.3 455.5h8.3M367.5 451.3v8.3M314.3 461.5h8.3M318.5 457.3v8.3M320.3 461.5h8.3M324.5 457.3v8.3M318.3 457.5h8.3M322.5 453.3v8.3M294.3 457.5h8.3M298.5 453.3v8.3M317.3 455.5h8.3M321.5 451.3v8.3M363.3 450.5h8.3M367.5 446.3v8.3M355.3 460.5h8.3M359.5 456.3v8.3M296.3 454.5h8.3M300.5 450.3v8.3M324.3 457.5h8.3M328.5 453.3v8.3M355.3 457.5h8.3M359.5 453.3v8.3M365.3 465.5h8.3M369.5 461.3v8.3M270.3 456.5h8.3M274.5 452.3v8.3M312.3 452.5h8.3M316.5 448.3v8.3M316.3 461.5h8.3M320.5 457.3v8.3M369.3 458.5h8.3M373.5 454.3v8.3M340.3 455.5h8.3M344.5 451.3v8.3M336.3 456.5h8.3M340.5 452.3v8.3M303.3 452.5h8.3M307.5 448.3v8.3M348.3 452.5h8.3M352.5 448.3v8.3M364.3 457.5h8.3M368.5 453.3v8.3M345.3 450.5h8.3M349.5 446.3v8.3M323.3 457.5h8.3M327.5 453.3v8.3M357.3 459.5h8.3M361.5 455.3v8.3M282.3 453.5h8.3M286.5 449.3v8.3M301.3 452.5h8.3M305.5 448.3v8.3M351.3 452.5h8.3M355.5 448.3v8.3M337.3 460.5h8.3M341.5 456.3v8.3M336.3 462.5h8.3M340.5 458.3v8.3M321.3 453.5h8.3M325.5 449.3v8.3M337.3 451.5h8.3M341.5 447.3v8.3M344.3 459.5h8.3M348.5 455.3v8.3M274.3 453.5h8.3M278.5 449.3v8.3M269.3 457.5h8.3M273.5 453.3v8.3M329.3 461.5h8.3M333.5 457.3v8.3M353.3 455.5h8.3M357.5 451.3v8.3M336.3 454.5h8.3M340.5 450.3v8.3M330.3 460.5h8.3M334.5 456.3v8.3M355.3 450.5h8.3M359.5 446.3v8.3M318.3 457.5h8.3M322.5 453.3v8.3M307.3 453.5h8.3M311.5 449.3v8.3M359.3 453.5h8.3M363.5 449.3v8.3M328.3 461.5h8.3M332.5 457.3v8.3M367.3 465.5h8.3M371.5 461.3v8.3M343.3 454.5h8.3M347.5 450.3v8.3M312.3 457.5h8.3M316.5 453.3v8.3M355.3 448.5h8.3M359.5 444.3v8.3M350.3 455.5h8.3M354.5 451.3v8.3M357.3 461.5h8.3M361.5 457.3v8.3M330.3 448.5h8.3M334.5 444.3v8.3M321.3 458.5h8.3M325.5 454.3v8.3M283.3 457.5h8.3M287.5 453.3v8.3M291.3 458.5h8.3M295.5 454.3v8.3M366.3 446.5h8.3M370.5 442.3v8.3M342.3 452.5h8.3M346.5 448.3v8.3M349.3 458.5h8.3M353.5 454.3v8.3M329.3 461.5h8.3M333.5 457.3v8.3M313.3 454.5h8.3M317.5 450.3v8.3M329.3 451.5h8.3M333.5 447.3v8.3M344.3 458.5h8.3M348.5 454.3v8.3M330.3 459.5h8.3M334.5 455.3v8.3M357.3 457.5h8.3M361.5 453.3v8.3M373.3 455.5h8.3M377.5 451.3v8.3M354.3 456.5h8.3M358.5 452.3v8.3M310.3 456.5h8.3M314.5 452.3v8.3M312.3 457.5h8.3M316.5 453.3v8.3M343.3 457.5h8.3M347.5 453.3v8.3M365.3 447.5h8.3M369.5 443.3v8.3M282.3 455.5h8.3M286.5 451.3v8.3M338.3 445.5h8.3M342.5 441.3v8.3M294.3 456.5h8.3M298.5 452.3v8.3M357.3 458.5h8.3M361.5 454.3v8.3M344.3 453.5h8.3M348.5 449.3v8.3M348.3 448.5h8.3M352.5 444.3v8.3M292.3 456.5h8.3M296.5 452.3v8.3M352.3 455.5h8.3M356.5 451.3v8.3M303.3 453.5h8.3M307.5 449.3v8.3M355.3 454.5h8.3M359.5 450.3v8.3M316.3 456.5h8.3M320.5 452.3v8.3M367.3 465.5h8.3M371.5 461.3v8.3M347.3 455.5h8.3M351.5 451.3v8.3M359.3 466.5h8.3M363.5 462.3v8.3M361.3 463.5h8.3M365.5 459.3v8.3M340.3 459.5h8.3M344.5 455.3v8.3M323.3 460.5h8.3M327.5 456.3v8.3M378.3 462.5h8.3M382.5 458.3v8.3M358.3 458.5h8.3M362.5 454.3v8.3M345.3 458.5h8.3M349.5 454.3v8.3M282.3 456.5h8.3M286.5 452.3v8.3M342.3 452.5h8.3M346.5 448.3v8.3M355.3 462.5h8.3M359.5 458.3v8.3M297.3 453.5h8.3M301.5 449.3v8.3M334.3 461.5h8.3M338.5 457.3v8.3M314.3 459.5h8.3M318.5 455.3v8.3M331.3 461.5h8.3M335.5 457.3v8.3M333.3 453.5h8.3M337.5 449.3v8.3M377.3 459.5h8.3M381.5 455.3v8.3M345.3 458.5h8.3M349.5 454.3v8.3M340.3 457.5h8.3M344.5 453.3v8.3M303.3 453.5h8.3M307.5 449.3v8.3M280.3 453.5h8.3M284.5 449.3v8.3M355.3 452.5h8.3M359.5 448.3v8.3M347.3 458.5h8.3M351.5 454.3v8.3M292.3 457.5h8.3M296.5 453.3v8.3M335.3 456.5h8.3M339.5 452.3v8.3M291.3 453.5h8.3M295.5 449.3v8.3M321.3 460.5h8.3M325.5 456.3v8.3M330.3 455.5h8.3M334.5 451.3v8.3M303.3 454.5h8.3M307.5 450.3v8.3M309.3 455.5h8.3M313.5 451.3v8.3M310.3 453.5h8.3M314.5 449.3v8.3M335.3 457.5h8.3M339.5 453.3v8.3M370.3 436.5h8.3M374.5 432.3v8.3M369.3 461.5h8.3M373.5 457.3v8.3M352.3 456.5h8.3M356.5 452.3v8.3M342.3 452.5h8.3M346.5 448.3v8.3M311.3 455.5h8.3M315.5 451.3v8.3M323.3 458.5h8.3M327.5 454.3v8.3M319.3 455.5h8.3M323.5 451.3v8.3M278.3 453.5h8.3M282.5 449.3v8.3M288.3 456.5h8.3M292.5 452.3v8.3M351.3 458.5h8.3M355.5 454.3v8.3M372.3 449.5h8.3M376.5 445.3v8.3M368.3 440.5h8.3M372.5 436.3v8.3M319.3 457.5h8.3M323.5 453.3v8.3M375.3 460.5h8.3M379.5 456.3v8.3M299.3 454.5h8.3M303.5 450.3v8.3M357.3 441.5h8.3M361.5 437.3v8.3M292.3 458.5h8.3M296.5 454.3v8.3M325.3 454.5h8.3M329.5 450.3v8.3M304.3 458.5h8.3M308.5 454.3v8.3M348.3 460.5h8.3M352.5 456.3v8.3M318.3 450.5h8.3M322.5 446.3v8.3M343.3 460.5h8.3M347.5 456.3v8.3M324.3 461.5h8.3M328.5 457.3v8.3M354.3 448.5h8.3M358.5 444.3v8.3M340.3 453.5h8.3M344.5 449.3v8.3M346.3 457.5h8.3M350.5 453.3v8.3M367.3 453.5h8.3M371.5 449.3v8.3M328.3 454.5h8.3M332.5 450.3v8.3M314.3 449.5h8.3M318.5 445.3v8.3M293.3 457.5h8.3M297.5 453.3v8.3M344.3 461.5h8.3M348.5 457.3v8.3M285.3 456.5h8.3M289.5 452.3v8.3M323.3 459.5h8.3M327.5 455.3v8.3M372.3 459.5h8.3M376.5 455.3v8.3M338.3 459.5h8.3M342.5 455.3v8.3M364.3 461.5h8.3M368.5 457.3v8.3M374.3 454.5h8.3M378.5 450.3v8.3M365.3 458.5h8.3M369.5 454.3v8.3M308.3 453.5h8.3M312.5 449.3v8.3M366.3 468.5h8.3M370.5 464.3v8.3M340.3 455.5h8.3M344.5 451.3v8.3M359.3 460.5h8.3M363.5 456.3v8.3M302.3 455.5h8.3M306.5 451.3v8.3M339.3 460.5h8.3M343.5 456.3v8.3M330.3 460.5h8.3M334.5 456.3v8.3M325.3 454.5h8.3M329.5 450.3v8.3M302.3 456.5h8.3M306.5 452.3v8.3M323.3 455.5h8.3M327.5 451.3v8.3M315.3 453.5h8.3M319.5 449.3v8.3M350.3 457.5h8.3M354.5 453.3v8.3M352.3 459.5h8.3M356.5 455.3v8.3M339.3 455.5h8.3M343.5 451.3v8.3M306.3 453.5h8.3M310.5 449.3v8.3M312.3 456.5h8.3M316.5 452.3v8.3M345.3 453.5h8.3M349.5 449.3v8.3M303.3 458.5h8.3M307.5 454.3v8.3M362.3 453.5h8.3M366.5 449.3v8.3M315.3 453.5h8.3M319.5 449.3v8.3M306.3 451.5h8.3M310.5 447.3v8.3M300.3 452.5h8.3M304.5 448.3v8.3M379.3 464.5h8.3M383.5 460.3v8.3M364.3 460.5h8.3M368.5 456.3v8.3M351.3 449.5h8.3M355.5 445.3v8.3M328.3 454.5h8.3M332.5 450.3v8.3M344.3 450.5h8.3M348.5 446.3v8.3M312.3 461.5h8.3M316.5 457.3v8.3M338.3 456.5h8.3M342.5 452.3v8.3M333.3 457.5h8.3M337.5 453.3v8.3M371.3 454.5h8.3M375.5 450.3v8.3M355.3 460.5h8.3M359.5 456.3v8.3M340.3 459.5h8.3M344.5 455.3v8.3M337.3 458.5h8.3M341.5 454.3v8.3M360.3 461.5h8.3M364.5 457.3v8.3M355.3 459.5h8.3M359.5 455.3v8.3M332.3 459.5h8.3M336.5 455.3v8.3M298.3 458.5h8.3M302.5 454.3v8.3M296.3 457.5h8.3M300.5 453.3v8.3M367.3 448.5h8.3M371.5 444.3v8.3M324.3 458.5h8.3M328.5 454.3v8.3M348.3 458.5h8.3M352.5 454.3v8.3M285.3 455.5h8.3M289.5 451.3v8.3M316.3 458.5h8.3M320.5 454.3v8.3M281.3 458.5h8.3M285.5 454.3v8.3M336.3 456.5h8.3M340.5 452.3v8.3M364.3 451.5h8.3M368.5 447.3v8.3M299.3 459.5h8.3M303.5 455.3v8.3M344.3 455.5h8.3M348.5 451.3v8.3M349.3 456.5h8.3M353.5 452.3v8.3M316.3 457.5h8.3M320.5 453.3v8.3M331.3 452.5h8.3M335.5 448.3v8.3M317.3 456.5h8.3M321.5 452.3v8.3M361.3 457.5h8.3M365.5 453.3v8.3M321.3 450.5h8.3M325.5 446.3v8.3M285.3 456.5h8.3M289.5 452.3v8.3M362.3 466.5h8.3M366.5 462.3v8.3M337.3 445.5h8.3M341.5 441.3v8.3M313.3 451.5h8.3M317.5 447.3v8.3M344.3 451.5h8.3M348.5 447.3v8.3M327.3 455.5h8.3M331.5 451.3v8.3M353.3 449.5h8.3M357.5 445.3v8.3M369.3 457.5h8.3M373.5 453.3v8.3M365.3 449.5h8.3M369.5 445.3v8.3M295.3 453.5h8.3M299.5 449.3v8.3M278.3 455.5h8.3M282.5 451.3v8.3M291.3 456.5h8.3M295.5 452.3v8.3M314.3 457.5h8.3M318.5 453.3v8.3M297.3 457.5h8.3M301.5 453.3v8.3M365.3 458.5h8.3M369.5 454.3v8.3M378.3 461.5h8.3M382.5 457.3v8.3M368.3 455.5h8.3M372.5 451.3v8.3M353.3 455.5h8.3M357.5 451.3v8.3M306.3 457.5h8.3M310.5 453.3v8.3M307.3 455.5h8.3M311.5 451.3v8.3M334.3 447.5h8.3M338.5 443.3v8.3M365.3 454.5h8.3M369.5 450.3v8.3M291.3 456.5h8.3M295.5 452.3v8.3M364.3 451.5h8.3M368.5 447.3v8.3M290.3 459.5h8.3M294.5 455.3v8.3M347.3 450.5h8.3M351.5 446.3v8.3M299.3 455.5h8.3M303.5 451.3v8.3M318.3 457.5h8.3M322.5 453.3v8.3M303.3 454.5h8.3M307.5 450.3v8.3M303.3 456.5h8.3M307.5 452.3v8.3M321.3 459.5h8.3M325.5 455.3v8.3M361.3 457.5h8.3M365.5 453.3v8.3M321.3 458.5h8.3M325.5 454.3v8.3M360.3 455.5h8.3M364.5 451.3v8.3M347.3 457.5h8.3M351.5 453.3v8.3M340.3 456.5h8.3M344.5 452.3v8.3M314.3 459.5h8.3M318.5 455.3v8.3M322.3 459.5h8.3M326.5 455.3v8.3M347.3 447.5h8.3M351.5 443.3v8.3M299.3 450.5h8.3M303.5 446.3v8.3M337.3 451.5h8.3M341.5 447.3v8.3M291.3 453.5h8.3M295.5 449.3v8.3M378.3 442.5h8.3M382.5 438.3v8.3M315.3 452.5h8.3M319.5 448.3v8.3M344.3 451.5h8.3M348.5 447.3v8.3M283.3 458.5h8.3M287.5 454.3v8.3M302.3 456.5h8.3M306.5 452.3v8.3M267.3 456.5h8.3M271.5 452.3v8.3M295.3 454.5h8.3M299.5 450.3v8.3M261.3 455.5h8.3M265.5 451.3v8.3M314.3 456.5h8.3M318.5 452.3v8.3M271.3 451.5h8.3M275.5 447.3v8.3M282.3 454.5h8.3M286.5 450.3v8.3M284.3 457.5h8.3M288.5 453.3v8.3M276.3 456.5h8.3M280.5 452.3v8.3M306.3 453.5h8.3M310.5 449.3v8.3M314.3 456.5h8.3M318.5 452.3v8.3M269.3 453.5h8.3M273.5 449.3v8.3M266.3 455.5h8.3M270.5 451.3v8.3M273.3 455.5h8.3M277.5 451.3v8.3M280.3 455.5h8.3M284.5 451.3v8.3M260.3 454.5h8.3M264.5 450.3v8.3M280.3 458.5h8.3M284.5 454.3v8.3M291.3 457.5h8.3M295.5 453.3v8.3M270.3 457.5h8.3M274.5 453.3v8.3M275.3 453.5h8.3M279.5 449.3v8.3M283.3 456.5h8.3M287.5 452.3v8.3M284.3 456.5h8.3M288.5 452.3v8.3M290.3 456.5h8.3M294.5 452.3v8.3M267.3 457.5h8.3M271.5 453.3v8.3M290.3 460.5h8.3M294.5 456.3v8.3M297.3 456.5h8.3M301.5 452.3v8.3M314.3 458.5h8.3M318.5 454.3v8.3M287.3 456.5h8.3M291.5 452.3v8.3M312.3 458.5h8.3M316.5 454.3v8.3M284.3 454.5h8.3M288.5 450.3v8.3M308.3 456.5h8.3M312.5 452.3v8.3M299.3 453.5h8.3M303.5 449.3v8.3M280.3 456.5h8.3M284.5 452.3v8.3M263.3 458.5h8.3M267.5 454.3v8.3M276.3 455.5h8.3M280.5 451.3v8.3M265.3 457.5h8.3M269.5 453.3v8.3M281.3 457.5h8.3M285.5 453.3v8.3M301.3 451.5h8.3M305.5 447.3v8.3M289.3 454.5h8.3M293.5 450.3v8.3M289.3 454.5h8.3M293.5 450.3v8.3M303.3 457.5h8.3M307.5 453.3v8.3M304.3 459.5h8.3M308.5 455.3v8.3M301.3 456.5h8.3M305.5 452.3v8.3M300.3 451.5h8.3M304.5 447.3v8.3M280.3 456.5h8.3M284.5 452.3v8.3M276.3 455.5h8.3M280.5 451.3v8.3M288.3 453.5h8.3M292.5 449.3v8.3M270.3 459.5h8.3M274.5 455.3v8.3M264.3 454.5h8.3M268.5 450.3v8.3M270.3 455.5h8.3M274.5 451.3v8.3M296.3 456.5h8.3M300.5 452.3v8.3M310.3 455.5h8.3M314.5 451.3v8.3M296.3 456.5h8.3M300.5 452.3v8.3M299.3 453.5h8.3M303.5 449.3v8.3M264.3 460.5h8.3M268.5 456.3v8.3M279.3 457.5h8.3M283.5 453.3v8.3M294.3 457.5h8.3M298.5 453.3v8.3M286.3 457.5h8.3M290.5 453.3v8.3M277.3 454.5h8.3M281.5 450.3v8.3M310.3 458.5h8.3M314.5 454.3v8.3M273.3 458.5h8.3M277.5 454.3v8.3M297.3 452.5h8.3M301.5 448.3v8.3M285.3 458.5h8.3M289.5 454.3v8.3M312.3 457.5h8.3M316.5 453.3v8.3M260.3 456.5h8.3M264.5 452.3v8.3M296.3 460.5h8.3M300.5 456.3v8.3M306.3 451.5h8.3M310.5 447.3v8.3M302.3 456.5h8.3M306.5 452.3v8.3M262.3 456.5h8.3M266.5 452.3v8.3M277.3 454.5h8.3M281.5 450.3v8.3M286.3 455.5h8.3M290.5 451.3v8.3M283.3 456.5h8.3M287.5 452.3v8.3M272.3 455.5h8.3M276.5 451.3v8.3M262.3 458.5h8.3M266.5 454.3v8.3M292.3 455.5h8.3M296.5 451.3v8.3M312.3 459.5h8.3M316.5 455.3v8.3M288.3 457.5h8.3M292.5 453.3v8.3M275.3 453.5h8.3M279.5 449.3v8.3M269.3 460.5h8.3M273.5 456.3v8.3M311.3 455.5h8.3M315.5 451.3v8.3M308.3 456.5h8.3M312.5 452.3v8.3M264.3 454.5h8.3M268.5 450.3v8.3M304.3 454.5h8.3M308.5 450.3v8.3M298.3 450.5h8.3M302.5 446.3v8.3M277.3 459.5h8.3M281.5 455.3v8.3M289.3 456.5h8.3M293.5 452.3v8.3M279.3 454.5h8.3M283.5 450.3v8.3M280.3 457.5h8.3M284.5 453.3v8.3M289.3 462.5h8.3M293.5 458.3v8.3M304.3 458.5h8.3M308.5 454.3v8.3M277.3 455.5h8.3M281.5 451.3v8.3M266.3 455.5h8.3M270.5 451.3v8.3M309.3 454.5h8.3M313.5 450.3v8.3M276.3 457.5h8.3M280.5 453.3v8.3M271.3 457.5h8.3M275.5 453.3v8.3M305.3 454.5h8.3M309.5 450.3v8.3M285.3 456.5h8.3M289.5 452.3v8.3M305.3 456.5h8.3M309.5 452.3v8.3M313.3 457.5h8.3M317.5 453.3v8.3M269.3 457.5h8.3M273.5 453.3v8.3M299.3 456.5h8.3M303.5 452.3v8.3M281.3 457.5h8.3M285.5 453.3v8.3M281.3 453.5h8.3M285.5 449.3v8.3M280.3 455.5h8.3M284.5 451.3v8.3M288.3 456.5h8.3M292.5 452.3v8.3M300.3 454.5h8.3M304.5 450.3v8.3M268.3 455.5h8.3M272.5 451.3v8.3M282.3 453.5h8.3M286.5 449.3v8.3M271.3 457.5h8.3M275.5 453.3v8.3M268.3 457.5h8.3M272.5 453.3v8.3M264.3 457.5h8.3M268.5 453.3v8.3M310.3 459.5h8.3M314.5 455.3v8.3M279.3 457.5h8.3M283.5 453.3v8.3M286.3 457.5h8.3M290.5 453.3v8.3M271.3 455.5h8.3M275.5 451.3v8.3M285.3 458.5h8.3M289.5 454.3v8.3M260.3 457.5h8.3M264.5 453.3v8.3M290.3 457.5h8.3M294.5 453.3v8.3M275.3 456.5h8.3M279.5 452.3v8.3M282.3 454.5h8.3M286.5 450.3v8.3M266.3 456.5h8.3M270.5 452.3v8.3M299.3 456.5h8.3M303.5 452.3v8.3M262.3 457.5h8.3M266.5 453.3v8.3M263.3 454.5h8.3M267.5 450.3v8.3M307.3 455.5h8.3M311.5 451.3v8.3M295.3 457.5h8.3M299.5 453.3v8.3M283.3 457.5h8.3M287.5 453.3v8.3M297.3 454.5h8.3M301.5 450.3v8.3M287.3 455.5h8.3M291.5 451.3v8.3M276.3 453.5h8.3M280.5 449.3v8.3M267.3 454.5h8.3M271.5 450.3v8.3M282.3 458.5h8.3M286.5 454.3v8.3M302.3 459.5h8.3M306.5 455.3v8.3M266.3 453.5h8.3M270.5 449.3v8.3M263.3 455.5h8.3M267.5 451.3v8.3M306.3 456.5h8.3M310.5 452.3v8.3M293.3 456.5h8.3M297.5 452.3v8.3M268.3 458.5h8.3M272.5 454.3v8.3M276.3 457.5h8.3M280.5 453.3v8.3M307.3 454.5h8.3M311.5 450.3v8.3M279.3 458.5h8.3M283.5 454.3v8.3M305.3 458.5h8.3M309.5 454.3v8.3M292.3 455.5h8.3M296.5 451.3v8.3M267.3 453.5h8.3M271.5 449.3v8.3M274.3 454.5h8.3M278.5 450.3v8.3M281.3 456.5h8.3M285.5 452.3v8.3M270.3 457.5h8.3M274.5 453.3v8.3M309.3 455.5h8.3M313.5 451.3v8.3M306.3 456.5h8.3M310.5 452.3v8.3M303.3 456.5h8.3M307.5 452.3v8.3M341.3 466.5h8.3M345.5 462.3v8.3M354.3 458.5h8.3M358.5 454.3v8.3M337.3 465.5h8.3M341.5 461.3v8.3M341.3 461.5h8.3M345.5 457.3v8.3M359.3 449.5h8.3M363.5 445.3v8.3M308.3 463.5h8.3M312.5 459.3v8.3M341.3 467.5h8.3M345.5 463.3v8.3M312.3 464.5h8.3M316.5 460.3v8.3M339.3 459.5h8.3M343.5 455.3v8.3M340.3 461.5h8.3M344.5 457.3v8.3M346.3 464.5h8.3M350.5 460.3v8.3M329.3 447.5h8.3M333.5 443.3v8.3M359.3 475.5h8.3M363.5 471.3v8.3M322.3 453.5h8.3M326.5 449.3v8.3M341.3 452.5h8.3M345.5 448.3v8.3M324.3 465.5h8.3M328.5 461.3v8.3M346.3 461.5h8.3M350.5 457.3v8.3M339.3 453.5h8.3M343.5 449.3v8.3M343.3 456.5h8.3M347.5 452.3v8.3M336.3 457.5h8.3M340.5 453.3v8.3M347.3 456.5h8.3M351.5 452.3v8.3M332.3 460.5h8.3M336.5 456.3v8.3M353.3 453.5h8.3M357.5 449.3v8.3M356.3 443.5h8.3M360.5 439.3v8.3M326.3 456.5h8.3M330.5 452.3v8.3M335.3 450.5h8.3M339.5 446.3v8.3M314.3 460.5h8.3M318.5 456.3v8.3M309.3 459.5h8.3M313.5 455.3v8.3M330.3 447.5h8.3M334.5 443.3v8.3M340.3 459.5h8.3M344.5 455.3v8.3M351.3 463.5h8.3M355.5 459.3v8.3M337.3 454.5h8.3M341.5 450.3v8.3M336.3 454.5h8.3M340.5 450.3v8.3M352.3 465.5h8.3M356.5 461.3v8.3M351.3 461.5h8.3M355.5 457.3v8.3M339.3 469.5h8.3M343.5 465.3v8.3M364.3 461.5h8.3M368.5 457.3v8.3M359.3 463.5h8.3M363.5 459.3v8.3M317.3 454.5h8.3M321.5 450.3v8.3M343.3 464.5h8.3M347.5 460.3v8.3M344.3 471.5h8.3M348.5 467.3v8.3M356.3 456.5h8.3M360.5 452.3v8.3M325.3 460.5h8.3M329.5 456.3v8.3M340.3 466.5h8.3M344.5 462.3v8.3M331.3 455.5h8.3M335.5 451.3v8.3M354.3 464.5h8.3M358.5 460.3v8.3M326.3 461.5h8.3M330.5 457.3v8.3M363.3 456.5h8.3M367.5 452.3v8.3M324.3 469.5h8.3M328.5 465.3v8.3M340.3 459.5h8.3M344.5 455.3v8.3M320.3 453.5h8.3M324.5 449.3v8.3M335.3 466.5h8.3M339.5 462.3v8.3M337.3 477.5h8.3M341.5 473.3v8.3M350.3 462.5h8.3M354.5 458.3v8.3M344.3 459.5h8.3M348.5 455.3v8.3M332.3 435.5h8.3M336.5 431.3v8.3M323.3 478.5h8.3M327.5 474.3v8.3M348.3 479.5h8.3M352.5 475.3v8.3M323.3 456.5h8.3M327.5 452.3v8.3M344.3 461.5h8.3M348.5 457.3v8.3M333.3 461.5h8.3M337.5 457.3v8.3M357.3 453.5h8.3M361.5 449.3v8.3M333.3 468.5h8.3M337.5 464.3v8.3M314.3 459.5h8.3M318.5 455.3v8.3M339.3 461.5h8.3M343.5 457.3v8.3M320.3 453.5h8.3M324.5 449.3v8.3M333.3 456.5h8.3M337.5 452.3v8.3M343.3 455.5h8.3M347.5 451.3v8.3M328.3 466.5h8.3M332.5 462.3v8.3M348.3 474.5h8.3M352.5 470.3v8.3M353.3 453.5h8.3M357.5 449.3v8.3M335.3 470.5h8.3M339.5 466.3v8.3M348.3 469.5h8.3M352.5 465.3v8.3M319.3 465.5h8.3M323.5 461.3v8.3M328.3 466.5h8.3M332.5 462.3v8.3M335.3 472.5h8.3M339.5 468.3v8.3M340.3 468.5h8.3M344.5 464.3v8.3M305.3 476.5h8.3M309.5 472.3v8.3M353.3 468.5h8.3M357.5 464.3v8.3M354.3 460.5h8.3M358.5 456.3v8.3M335.3 451.5h8.3M339.5 447.3v8.3M344.3 460.5h8.3M348.5 456.3v8.3M343.3 472.5h8.3M347.5 468.3v8.3M318.3 455.5h8.3M322.5 451.3v8.3M315.3 469.5h8.3M319.5 465.3v8.3M366.3 456.5h8.3M370.5 452.3v8.3M360.3 462.5h8.3M364.5 458.3v8.3M349.3 469.5h8.3M353.5 465.3v8.3M346.3 456.5h8.3M350.5 452.3v8.3M320.3 461.5h8.3M324.5 457.3v8.3M326.3 467.5h8.3M330.5 463.3v8.3M334.3 462.5h8.3M338.5 458.3v8.3M320.3 455.5h8.3M324.5 451.3v8.3M344.3 463.5h8.3M348.5 459.3v8.3M325.3 461.5h8.3M329.5 457.3v8.3M341.3 458.5h8.3M345.5 454.3v8.3M329.3 465.5h8.3M333.5 461.3v8.3M342.3 467.5h8.3M346.5 463.3v8.3M352.3 470.5h8.3M356.5 466.3v8.3M337.3 470.5h8.3M341.5 466.3v8.3M341.3 455.5h8.3M345.5 451.3v8.3M320.3 463.5h8.3M324.5 459.3v8.3M334.3 455.5h8.3M338.5 451.3v8.3M316.3 467.5h8.3M320.5 463.3v8.3M362.3 466.5h8.3M366.5 462.3v8.3M339.3 466.5h8.3M343.5 462.3v8.3M342.3 454.5h8.3M346.5 450.3v8.3M349.3 463.5h8.3M353.5 459.3v8.3M344.3 459.5h8.3M348.5 455.3v8.3M343.3 472.5h8.3M347.5 468.3v8.3M339.3 458.5h8.3M343.5 454.3v8.3M343.3 455.5h8.3M347.5 451.3v8.3M346.3 462.5h8.3M350.5 458.3v8.3M324.3 460.5h8.3M328.5 456.3v8.3M356.3 468.5h8.3M360.5 464.3v8.3M339.3 462.5h8.3M343.5 458.3v8.3M332.3 463.5h8.3M336.5 459.3v8.3M348.3 469.5h8.3M352.5 465.3v8.3M343.3 448.5h8.3M347.5 444.3v8.3M321.3 465.5h8.3M325.5 461.3v8.3M364.3 449.5h8.3M368.5 445.3v8.3M336.3 478.5h8.3M340.5 474.3v8.3M327.3 454.5h8.3M331.5 450.3v8.3M343.3 465.5h8.3M347.5 461.3v8.3M328.3 466.5h8.3M332.5 462.3v8.3M327.3 465.5h8.3M331.5 461.3v8.3M351.3 469.5h8.3M355.5 465.3v8.3M330.3 457.5h8.3M334.5 453.3v8.3M332.3 475.5h8.3M336.5 471.3v8.3M344.3 449.5h8.3M348.5 445.3v8.3M371.3 458.5h8.3M375.5 454.3v8.3M352.3 447.5h8.3M356.5 443.3v8.3M347.3 455.5h8.3M351.5 451.3v8.3M345.3 458.5h8.3M349.5 454.3v8.3M311.3 466.5h8.3M315.5 462.3v8.3M331.3 449.5h8.3M335.5 445.3v8.3M354.3 467.5h8.3M358.5 463.3v8.3M313.3 469.5h8.3M317.5 465.3v8.3M347.3 461.5h8.3M351.5 457.3v8.3M339.3 466.5h8.3M343.5 462.3v8.3M360.3 473.5h8.3M364.5 469.3v8.3M322.3 461.5h8.3M326.5 457.3v8.3M346.3 468.5h8.3M350.5 464.3v8.3M338.3 466.5h8.3M342.5 462.3v8.3M346.3 460.5h8.3M350.5 456.3v8.3M331.3 476.5h8.3M335.5 472.3v8.3M341.3 468.5h8.3M345.5 464.3v8.3M345.3 458.5h8.3M349.5 454.3v8.3M334.3 464.5h8.3M338.5 460.3v8.3M330.3 472.5h8.3M334.5 468.3v8.3M324.3 468.5h8.3M328.5 464.3v8.3M350.3 467.5h8.3M354.5 463.3v8.3M342.3 457.5h8.3M346.5 453.3v8.3M349.3 471.5h8.3M353.5 467.3v8.3M339.3 453.5h8.3M343.5 449.3v8.3M342.3 474.5h8.3M346.5 470.3v8.3M340.3 448.5h8.3M344.5 444.3v8.3M343.3 463.5h8.3M347.5 459.3v8.3M318.3 459.5h8.3M322.5 455.3v8.3M325.3 456.5h8.3M329.5 452.3v8.3M335.3 480.5h8.3M339.5 476.3v8.3M331.3 450.5h8.3M335.5 446.3v8.3M343.3 462.5h8.3M347.5 458.3v8.3M323.3 471.5h8.3M327.5 467.3v8.3M356.3 457.5h8.3M360.5 453.3v8.3M322.3 472.5h8.3M326.5 468.3v8.3M327.3 456.5h8.3M331.5 452.3v8.3M294.3 383.5h8.3M298.5 379.3v8.3M290.3 389.5h8.3M294.5 385.3v8.3M276.3 432.5h8.3M280.5 428.3v8.3M284.3 435.5h8.3M288.5 431.3v8.3M278.3 439.5h8.3M282.5 435.3v8.3M283.3 421.5h8.3M287.5 417.3v8.3M298.3 421.5h8.3M302.5 417.3v8.3M274.3 432.5h8.3M278.5 428.3v8.3M280.3 415.5h8.3M284.5 411.3v8.3M299.3 384.5h8.3M303.5 380.3v8.3M278.3 402.5h8.3M282.5 398.3v8.3M283.3 418.5h8.3M287.5 414.3v8.3M284.3 450.5h8.3M288.5 446.3v8.3M294.3 428.5h8.3M298.5 424.3v8.3M303.3 444.5h8.3M307.5 440.3v8.3M289.3 390.5h8.3M293.5 386.3v8.3M291.3 388.5h8.3M295.5 384.3v8.3M303.3 431.5h8.3M307.5 427.3v8.3M295.3 417.5h8.3M299.5 413.3v8.3M284.3 411.5h8.3M288.5 407.3v8.3M298.3 444.5h8.3M302.5 440.3v8.3M284.3 383.5h8.3M288.5 379.3v8.3M278.3 439.5h8.3M282.5 435.3v8.3M282.3 420.5h8.3M286.5 416.3v8.3M285.3 387.5h8.3M289.5 383.3v8.3M289.3 354.5h8.3M293.5 350.3v8.3M283.3 388.5h8.3M287.5 384.3v8.3M298.3 341.5h8.3M302.5 337.3v8.3M286.3 432.5h8.3M290.5 428.3v8.3M302.3 412.5h8.3M306.5 408.3v8.3M302.3 330.5h8.3M306.5 326.3v8.3M299.3 404.5h8.3M303.5 400.3v8.3M304.3 380.5h8.3M308.5 376.3v8.3M281.3 443.5h8.3M285.5 439.3v8.3M278.3 405.5h8.3M282.5 401.3v8.3M285.3 418.5h8.3M289.5 414.3v8.3M292.3 434.5h8.3M296.5 430.3v8.3M281.3 383.5h8.3M285.5 379.3v8.3M296.3 445.5h8.3M300.5 441.3v8.3M292.3 385.5h8.3M296.5 381.3v8.3M279.3 400.5h8.3M283.5 396.3v8.3M278.3 437.5h8.3M282.5 433.3v8.3M290.3 412.5h8.3M294.5 408.3v8.3M300.3 430.5h8.3M304.5 426.3v8.3M277.3 422.5h8.3M281.5 418.3v8.3M297.3 419.5h8.3M301.5 415.3v8.3M290.3 377.5h8.3M294.5 373.3v8.3M303.3 393.5h8.3M307.5 389.3v8.3M297.3 319.5h8.3M301.5 315.3v8.3M277.3 328.5h8.3M281.5 324.3v8.3M304.3 446.5h8.3M308.5 442.3v8.3M291.3 338.5h8.3M295.5 334.3v8.3M302.3 363.5h8.3M306.5 359.3v8.3M287.3 425.5h8.3M291.5 421.3v8.3M275.3 429.5h8.3M279.5 425.3v8.3M302.3 391.5h8.3M306.5 387.3v8.3M282.3 434.5h8.3M286.5 430.3v8.3M282.3 333.5h8.3M286.5 329.3v8.3M194.3 315.5h8.3M198.5 311.3v8.3M202.3 314.5h8.3M206.5 310.3v8.3M221.3 304.5h8.3M225.5 300.3v8.3M273.3 287.5h8.3M277.5 283.3v8.3M275.3 271.5h8.3M279.5 267.3v8.3M275.3 262.5h8.3M279.5 258.3v8.3M300.3 256.5h8.3M304.5 252.3v8.3M303.3 256.5h8.3M307.5 252.3v8.3M306.3 256.5h8.3M310.5 252.3v8.3M316.3 259.5h8.3M320.5 255.3v8.3M317.3 261.5h8.3M321.5 257.3v8.3M324.3 257.5h8.3M328.5 253.3v8.3M326.3 261.5h8.3M330.5 257.3v8.3M329.3 263.5h8.3M333.5 259.3v8.3M331.3 263.5h8.3M335.5 259.3v8.3M331.3 266.5h8.3M335.5 262.3v8.3M339.3 260.5h8.3M343.5 256.3v8.3M341.3 259.5h8.3M345.5 255.3v8.3M340.3 251.5h8.3M344.5 247.3v8.3M324.3 251.5h8.3M328.5 247.3v8.3M306.3 251.5h8.3M310.5 247.3v8.3M297.3 270.5h8.3M301.5 266.3v8.3M303.3 268.5h8.3M307.5 264.3v8.3M308.3 267.5h8.3M312.5 263.3v8.3M316.3 272.5h8.3M320.5 268.3v8.3M321.3 270.5h8.3M325.5 266.3v8.3M323.3 271.5h8.3M327.5 267.3v8.3M333.3 270.5h8.3M337.5 266.3v8.3M334.3 272.5h8.3M338.5 268.3v8.3M335.3 273.5h8.3M339.5 269.3v8.3M286.3 277.5h8.3M290.5 273.3v8.3M341.3 279.5h8.3M345.5 275.3v8.3M321.3 281.5h8.3M325.5 277.3v8.3M319.3 282.5h8.3M323.5 278.3v8.3M316.3 284.5h8.3M320.5 280.3v8.3M314.3 286.5h8.3M318.5 282.3v8.3M312.3 288.5h8.3M316.5 284.3v8.3M309.3 284.5h8.3M313.5 280.3v8.3M307.3 286.5h8.3M311.5 282.3v8.3M306.3 289.5h8.3M310.5 285.3v8.3M305.3 291.5h8.3M309.5 287.3v8.3M310.3 289.5h8.3M314.5 285.3v8.3M311.3 291.5h8.3M315.5 287.3v8.3M309.3 293.5h8.3M313.5 289.3v8.3M331.3 284.5h8.3M335.5 280.3v8.3M333.3 287.5h8.3M337.5 283.3v8.3M335.3 289.5h8.3M339.5 285.3v8.3M336.3 294.5h8.3M340.5 290.3v8.3M293.3 293.5h8.3M297.5 289.3v8.3M295.3 299.5h8.3M299.5 295.3v8.3M297.3 298.5h8.3M301.5 294.3v8.3M301.3 297.5h8.3M305.5 293.3v8.3M302.3 298.5h8.3M306.5 294.3v8.3M317.3 295.5h8.3M321.5 291.3v8.3M319.3 296.5h8.3M323.5 292.3v8.3M325.3 298.5h8.3M329.5 294.3v8.3M328.3 298.5h8.3M332.5 294.3v8.3M334.3 299.5h8.3M338.5 295.3v8.3M312.3 298.5h8.3M316.5 294.3v8.3M311.3 303.5h8.3M315.5 299.3v8.3M309.3 305.5h8.3M313.5 301.3v8.3M316.3 308.5h8.3M320.5 304.3v8.3M313.3 309.5h8.3M317.5 305.3v8.3M333.3 305.5h8.3M337.5 301.3v8.3M335.3 306.5h8.3M339.5 302.3v8.3M337.3 305.5h8.3M341.5 301.3v8.3M338.3 306.5h8.3M342.5 302.3v8.3M331.3 307.5h8.3M335.5 303.3v8.3M338.3 309.5h8.3M342.5 305.3v8.3M293.3 309.5h8.3M297.5 305.3v8.3M296.3 313.5h8.3M300.5 309.3v8.3M305.3 315.5h8.3M309.5 311.3v8.3M316.3 313.5h8.3M320.5 309.3v8.3M317.3 316.5h8.3M321.5 312.3v8.3M319.3 317.5h8.3M323.5 313.3v8.3M332.3 315.5h8.3M336.5 311.3v8.3M329.3 319.5h8.3M333.5 315.3v8.3M367.3 320.5h8.3M371.5 316.3v8.3M324.3 319.5h8.3M328.5 315.3v8.3M311.3 319.5h8.3M315.5 315.3v8.3M312.3 320.5h8.3M316.5 316.3v8.3M314.3 319.5h8.3M318.5 315.3v8.3M205.3 326.5h8.3M209.5 322.3v8.3M206.3 333.5h8.3M210.5 329.3v8.3M225.3 341.5h8.3M229.5 337.3v8.3M225.3 343.5h8.3M229.5 339.3v8.3M191.3 349.5h8.3M195.5 345.3v8.3M192.3 353.5h8.3M196.5 349.3v8.3M192.3 354.5h8.3M196.5 350.3v8.3M208.3 349.5h8.3M212.5 345.3v8.3M204.3 361.5h8.3M208.5 357.3v8.3M192.3 363.5h8.3M196.5 359.3v8.3M219.3 365.5h8.3M223.5 361.3v8.3M263.3 367.5h8.3M267.5 363.3v8.3M191.3 378.5h8.3M195.5 374.3v8.3M192.3 385.5h8.3M196.5 381.3v8.3M194.3 386.5h8.3M198.5 382.3v8.3M194.3 388.5h8.3M198.5 384.3v8.3M190.3 394.5h8.3M194.5 390.3v8.3M248.3 380.5h8.3M252.5 376.3v8.3M259.3 391.5h8.3M263.5 387.3v8.3M268.3 392.5h8.3M272.5 388.3v8.3M274.3 390.5h8.3M278.5 386.3v8.3M271.3 325.5h8.3M275.5 321.3v8.3M272.3 328.5h8.3M276.5 324.3v8.3M274.3 332.5h8.3M278.5 328.3v8.3M270.3 335.5h8.3M274.5 331.3v8.3M191.3 400.5h8.3M195.5 396.3v8.3M192.3 405.5h8.3M196.5 401.3v8.3M192.3 411.5h8.3M196.5 407.3v8.3M191.3 419.5h8.3M195.5 415.3v8.3M191.3 421.5h8.3M195.5 417.3v8.3M192.3 429.5h8.3M196.5 425.3v8.3M193.3 444.5h8.3M197.5 440.3v8.3M193.3 446.5h8.3M197.5 442.3v8.3M206.3 400.5h8.3M210.5 396.3v8.3M207.3 400.5h8.3M211.5 396.3v8.3M212.3 400.5h8.3M216.5 396.3v8.3M206.3 410.5h8.3M210.5 406.3v8.3M208.3 411.5h8.3M212.5 407.3v8.3M210.3 410.5h8.3M214.5 406.3v8.3M268.3 417.5h8.3M272.5 413.3v8.3M225.3 423.5h8.3M229.5 419.3v8.3M215.3 435.5h8.3M219.5 431.3v8.3M205.3 441.5h8.3M209.5 437.3v8.3M252.3 436.5h8.3M256.5 432.3v8.3M215.3 446.5h8.3M219.5 442.3v8.3M249.3 447.5h8.3M253.5 443.3v8.3M252.3 447.5h8.3M256.5 443.3v8.3M225.3 445.5h8.3M229.5 441.3v8.3M264.3 445.5h8.3M268.5 441.3v8.3M274.3 444.5h8.3M278.5 440.3v8.3M347.3 349.5h8.3M351.5 345.3v8.3M340.3 367.5h8.3M344.5 363.3v8.3M348.3 381.5h8.3M352.5 377.3v8.3M367.3 321.5h8.3M371.5 317.3v8.3M311.3 473.5h8.3M315.5 469.3v8.3M346.3 482.5h8.3M350.5 478.3v8.3M350.3 482.5h8.3M354.5 478.3v8.3M358.3 483.5h8.3M362.5 479.3v8.3M312.3 59.5h8.3M316.5 55.3v8.3M314.3 59.5h8.3M318.5 55.3v8.3M318.3 62.5h8.3M322.5 58.3v8.3M328.3 70.5h8.3M332.5 66.3v8.3M346.3 68.5h8.3M350.5 64.3v8.3" stroke="#00bfbf" stroke-width="0.69" fill="none"/>
<path d="M225.4 419.3l8.3 8.3M225.4 427.7l8.3 -8.3M215.2 431.1l8.3 8.3M215.2 439.4l8.3 -8.3M205.2 437.1l8.3 8.3M205.2 445.4l8.3 -8.3M252.3 432.1l8.3 8.3M252.3 440.4l8.3 -8.3M215.2 442.7l8.3 8.3M215.2 451.1l8.3 -8.3M248.9 443.3l8.3 8.3M248.9 451.7l8.3 -8.3M252.1 443.3l8.3 8.3M252.1 451.7l8.3 -8.3M248.3 376.2l8.3 8.3M248.3 384.6l8.3 -8.3M259.2 387.1l8.3 8.3M259.2 395.4l8.3 -8.3" stroke="#0000ff" stroke-width="0.90" fill="none"/>
<circle cx="256.8" cy="454.0" r="4.17" fill="#bf00bf" stroke="#000" stroke-width="0.69"/>
<circle cx="209.2" cy="454.3" r="4.17" fill="#bf00bf" stroke="#000" stroke-width="0.69"/>
<circle cx="250.1" cy="456.8" r="4.17" fill="#bf00bf" stroke="#000" stroke-width="0.69"/>
<circle cx="213.8" cy="453.6" r="4.17" fill="#bf00bf" stroke="#000" stroke-width="0.69"/>
<circle cx="260.9" cy="454.2" r="4.17" fill="#bf00bf" stroke="#000" stroke-width="0.69"/>
<circle cx="199.9" cy="458.5" r="4.17" fill="#bf00bf" stroke="#000" stroke-width="0.69"/>
<circle cx="210.8" cy="457.1" r="4.17" fill="#bf00bf" stroke="#000" stroke-width="0.69"/>
<circle cx="200.6" cy="454.1" r="4.17" fill="#bf00bf" stroke="#000" stroke-width="0.69"/>
<circle cx="251.8" cy="457.9" r="4.17" fill="#bf00bf" stroke="#000" stroke-width="0.69"/>
<circle cx="220.3" cy="458.4" r="4.17" fill="#bf00bf" stroke="#000" stroke-width="0.69"/>
<circle cx="226.1" cy="454.3" r="4.17" fill="#bf00bf" stroke="#000" stroke-width="0.69"/>
<circle cx="214.6" cy="456.4" r="4.17" fill="#bf00bf" stroke="#000" stroke-width="0.69"/>
<circle cx="219.8" cy="456.1" r="4.17" fill="#bf00bf" stroke="#000" stroke-width="0.69"/>
<circle cx="258.0" cy="455.9" r="4.17" fill="#bf00bf" stroke="#000" stroke-width="0.69"/>
<circle cx="244.5" cy="457.0" r="4.17" fill="#bf00bf" stroke="#000" stroke-width="0.69"/>
<circle cx="222.3" cy="457.2" r="4.17" fill="#bf00bf" stroke="#000" stroke-width="0.69"/>
<circle cx="200.4" cy="454.3" r="4.17" fill="#bf00bf" stroke="#000" stroke-width="0.69"/>
<circle cx="205.1" cy="455.7" r="4.17" fill="#bf00bf" stroke="#000" stroke-width="0.69"/>
<circle cx="222.4" cy="456.9" r="4.17" fill="#bf00bf" stroke="#000" stroke-width="0.69"/>
<circle cx="216.8" cy="457.6" r="4.17" fill="#bf00bf" stroke="#000" stroke-width="0.69"/>
<circle cx="240.7" cy="456.9" r="4.17" fill="#bf00bf" stroke="#000" stroke-width="0.69"/>
<circle cx="237.4" cy="456.7" r="4.17" fill="#bf00bf" stroke="#000" stroke-width="0.69"/>
<circle cx="209.1" cy="456.8" r="4.17" fill="#bf00bf" stroke="#000" stroke-width="0.69"/>
<circle cx="230.7" cy="458.8" r="4.17" fill="#bf00bf" stroke="#000" stroke-width="0.69"/>
<circle cx="249.3" cy="456.7" r="4.17" fill="#bf00bf" stroke="#000" stroke-width="0.69"/>
<circle cx="201.9" cy="453.9" r="4.17" fill="#bf00bf" stroke="#000" stroke-width="0.69"/>
<circle cx="221.0" cy="457.5" r="4.17" fill="#bf00bf" stroke="#000" stroke-width="0.69"/>
<circle cx="216.2" cy="455.1" r="4.17" fill="#bf00bf" stroke="#000" stroke-width="0.69"/>
<circle cx="251.9" cy="458.4" r="4.17" fill="#bf00bf" stroke="#000" stroke-width="0.69"/>
<circle cx="229.4" cy="453.9" r="4.17" fill="#bf00bf" stroke="#000" stroke-width="0.69"/>
<circle cx="246.4" cy="457.7" r="4.17" fill="#bf00bf" stroke="#000" stroke-width="0.69"/>
<circle cx="245.5" cy="456.1" r="4.17" fill="#bf00bf" stroke="#000" stroke-width="0.69"/>
<circle cx="252.9" cy="458.2" r="4.17" fill="#bf00bf" stroke="#000" stroke-width="0.69"/>
<circle cx="215.9" cy="454.7" r="4.17" fill="#bf00bf" stroke="#000" stroke-width="0.69"/>
<circle cx="247.9" cy="457.7" r="4.17" fill="#bf00bf" stroke="#000" stroke-width="0.69"/>
<circle cx="246.9" cy="455.0" r="4.17" fill="#bf00bf" stroke="#000" stroke-width="0.69"/>
<circle cx="200.0" cy="457.6" r="4.17" fill="#bf00bf" stroke="#000" stroke-width="0.69"/>
<circle cx="229.4" cy="455.4" r="4.17" fill="#bf00bf" stroke="#000" stroke-width="0.69"/>
<circle cx="241.7" cy="455.2" r="4.17" fill="#bf00bf" stroke="#000" stroke-width="0.69"/>
<circle cx="238.5" cy="456.6" r="4.17" fill="#bf00bf" stroke="#000" stroke-width="0.69"/>
<circle cx="257.1" cy="456.5" r="4.17" fill="#bf00bf" stroke="#000" stroke-width="0.69"/>
<circle cx="214.3" cy="454.6" r="4.17" fill="#bf00bf" stroke="#000" stroke-width="0.69"/>
<circle cx="242.0" cy="457.3" r="4.17" fill="#bf00bf" stroke="#000" stroke-width="0.69"/>
<circle cx="238.9" cy="456.2" r="4.17" fill="#bf00bf" stroke="#000" stroke-width="0.69"/>
<circle cx="231.3" cy="455.7" r="4.17" fill="#bf00bf" stroke="#000" stroke-width="0.69"/>
<circle cx="246.1" cy="454.1" r="4.17" fill="#bf00bf" stroke="#000" stroke-width="0.69"/>
<circle cx="220.5" cy="458.9" r="4.17" fill="#bf00bf" stroke="#000" stroke-width="0.69"/>
<circle cx="242.1" cy="457.8" r="4.17" fill="#bf00bf" stroke="#000" stroke-width="0.69"/>
<circle cx="229.1" cy="454.3" r="4.17" fill="#bf00bf" stroke="#000" stroke-width="0.69"/>
<circle cx="221.6" cy="458.5" r="4.17" fill="#bf00bf" stroke="#000" stroke-width="0.69"/>
<circle cx="213.3" cy="458.9" r="4.17" fill="#bf00bf" stroke="#000" stroke-width="0.69"/>
<circle cx="235.1" cy="456.3" r="4.17" fill="#bf00bf" stroke="#000" stroke-width="0.69"/>
<circle cx="256.0" cy="456.2" r="4.17" fill="#bf00bf" stroke="#000" stroke-width="0.69"/>
<circle cx="211.1" cy="457.6" r="4.17" fill="#bf00bf" stroke="#000" stroke-width="0.69"/>
<circle cx="255.4" cy="456.8" r="4.17" fill="#bf00bf" stroke="#000" stroke-width="0.69"/>
<circle cx="204.1" cy="455.7" r="4.17" fill="#bf00bf" stroke="#000" stroke-width="0.69"/>
<circle cx="262.6" cy="454.8" r="4.17" fill="#bf00bf" stroke="#000" stroke-width="0.69"/>
<circle cx="228.9" cy="456.7" r="4.17" fill="#bf00bf" stroke="#000" stroke-width="0.69"/>
<circle cx="225.7" cy="458.9" r="4.17" fill="#bf00bf" stroke="#000" stroke-width="0.69"/>
<circle cx="253.7" cy="458.5" r="4.17" fill="#bf00bf" stroke="#000" stroke-width="0.69"/>
<circle cx="206.2" cy="455.3" r="4.17" fill="#bf00bf" stroke="#000" stroke-width="0.69"/>
<circle cx="202.9" cy="454.1" r="4.17" fill="#bf00bf" stroke="#000" stroke-width="0.69"/>
<circle cx="252.8" cy="458.5" r="4.17" fill="#bf00bf" stroke="#000" stroke-width="0.69"/>
<circle cx="212.7" cy="456.6" r="4.17" fill="#bf00bf" stroke="#000" stroke-width="0.69"/>
<circle cx="222.2" cy="454.0" r="4.17" fill="#bf00bf" stroke="#000" stroke-width="0.69"/>
<circle cx="252.6" cy="455.2" r="4.17" fill="#bf00bf" stroke="#000" stroke-width="0.69"/>
<circle cx="239.5" cy="458.1" r="4.17" fill="#bf00bf" stroke="#000" stroke-width="0.69"/>
<circle cx="246.7" cy="454.0" r="4.17" fill="#bf00bf" stroke="#000" stroke-width="0.69"/>
<circle cx="262.5" cy="455.9" r="4.17" fill="#bf00bf" stroke="#000" stroke-width="0.69"/>
<circle cx="212.7" cy="454.1" r="4.17" fill="#bf00bf" stroke="#000" stroke-width="0.69"/>
<circle cx="228.5" cy="458.4" r="4.17" fill="#bf00bf" stroke="#000" stroke-width="0.69"/>
<circle cx="199.8" cy="454.0" r="4.17" fill="#bf00bf" stroke="#000" stroke-width="0.69"/>
<circle cx="256.3" cy="458.8" r="4.17" fill="#bf00bf" stroke="#000" stroke-width="0.69"/>
<circle cx="256.4" cy="456.7" r="4.17" fill="#bf00bf" stroke="#000" stroke-width="0.69"/>
<circle cx="247.3" cy="456.0" r="4.17" fill="#bf00bf" stroke="#000" stroke-width="0.69"/>
<circle cx="212.3" cy="455.6" r="4.17" fill="#bf00bf" stroke="#000" stroke-width="0.69"/>
<circle cx="243.2" cy="457.5" r="4.17" fill="#bf00bf" stroke="#000" stroke-width="0.69"/>
<circle cx="231.6" cy="456.6" r="4.17" fill="#bf00bf" stroke="#000" stroke-width="0.69"/>
<circle cx="229.1" cy="455.7" r="4.17" fill="#bf00bf" stroke="#000" stroke-width="0.69"/>
<circle cx="226.9" cy="456.5" r="4.17" fill="#bf00bf" stroke="#000" stroke-width="0.69"/>
<circle cx="199.6" cy="456.5" r="4.17" fill="#bf00bf" stroke="#000" stroke-width="0.69"/>
<circle cx="209.1" cy="455.3" r="4.17" fill="#bf00bf" stroke="#000" stroke-width="0.69"/>
<circle cx="201.7" cy="458.4" r="4.17" fill="#bf00bf" stroke="#000" stroke-width="0.69"/>
<circle cx="245.8" cy="457.8" r="4.17" fill="#bf00bf" stroke="#000" stroke-width="0.69"/>
<circle cx="257.5" cy="455.9" r="4.17" fill="#bf00bf" stroke="#000" stroke-width="0.69"/>
<circle cx="208.0" cy="457.0" r="4.17" fill="#bf00bf" stroke="#000" stroke-width="0.69"/>
<circle cx="251.3" cy="456.4" r="4.17" fill="#bf00bf" stroke="#000" stroke-width="0.69"/>
<circle cx="211.2" cy="458.1" r="4.17" fill="#bf00bf" stroke="#000" stroke-width="0.69"/>
<circle cx="206.2" cy="455.4" r="4.17" fill="#bf00bf" stroke="#000" stroke-width="0.69"/>
<circle cx="218.5" cy="456.0" r="4.17" fill="#bf00bf" stroke="#000" stroke-width="0.69"/>
<circle cx="250.5" cy="457.1" r="4.17" fill="#bf00bf" stroke="#000" stroke-width="0.69"/>
<circle cx="203.9" cy="455.6" r="4.17" fill="#bf00bf" stroke="#000" stroke-width="0.69"/>
<circle cx="210.0" cy="458.5" r="4.17" fill="#bf00bf" stroke="#000" stroke-width="0.69"/>
<circle cx="252.0" cy="456.5" r="4.17" fill="#bf00bf" stroke="#000" stroke-width="0.69"/>
<circle cx="203.8" cy="455.6" r="4.17" fill="#bf00bf" stroke="#000" stroke-width="0.69"/>
<circle cx="253.9" cy="458.6" r="4.17" fill="#bf00bf" stroke="#000" stroke-width="0.69"/>
<circle cx="256.3" cy="457.0" r="4.17" fill="#bf00bf" stroke="#000" stroke-width="0.69"/>
<circle cx="237.8" cy="458.3" r="4.17" fill="#bf00bf" stroke="#000" stroke-width="0.69"/>
<circle cx="218.9" cy="454.0" r="4.17" fill="#bf00bf" stroke="#000" stroke-width="0.69"/>
<circle cx="238.5" cy="455.0" r="4.17" fill="#bf00bf" stroke="#000" stroke-width="0.69"/>
<circle cx="244.9" cy="457.1" r="4.17" fill="#bf00bf" stroke="#000" stroke-width="0.69"/>
<circle cx="207.8" cy="454.1" r="4.17" fill="#bf00bf" stroke="#000" stroke-width="0.69"/>
<circle cx="203.8" cy="458.2" r="4.17" fill="#bf00bf" stroke="#000" stroke-width="0.69"/>
<circle cx="224.8" cy="455.9" r="4.17" fill="#bf00bf" stroke="#000" stroke-width="0.69"/>
<circle cx="235.3" cy="458.9" r="4.17" fill="#bf00bf" stroke="#000" stroke-width="0.69"/>
<circle cx="260.1" cy="457.2" r="4.17" fill="#bf00bf" stroke="#000" stroke-width="0.69"/>
<circle cx="253.4" cy="454.2" r="4.17" fill="#bf00bf" stroke="#000" stroke-width="0.69"/>
<circle cx="242.4" cy="455.6" r="4.17" fill="#bf00bf" stroke="#000" stroke-width="0.69"/>
<circle cx="253.7" cy="456.6" r="4.17" fill="#bf00bf" stroke="#000" stroke-width="0.69"/>
<circle cx="222.8" cy="455.3" r="4.17" fill="#bf00bf" stroke="#000" stroke-width="0.69"/>
<circle cx="256.9" cy="454.4" r="4.17" fill="#bf00bf" stroke="#000" stroke-width="0.69"/>
<circle cx="248.8" cy="458.4" r="4.17" fill="#bf00bf" stroke="#000" stroke-width="0.69"/>
<circle cx="219.7" cy="456.2" r="4.17" fill="#bf00bf" stroke="#000" stroke-width="0.69"/>
<circle cx="238.3" cy="456.9" r="4.17" fill="#bf00bf" stroke="#000" stroke-width="0.69"/>
<circle cx="223.9" cy="456.5" r="4.17" fill="#bf00bf" stroke="#000" stroke-width="0.69"/>
<circle cx="220.8" cy="455.6" r="4.17" fill="#bf00bf" stroke="#000" stroke-width="0.69"/>
<circle cx="259.9" cy="457.8" r="4.17" fill="#bf00bf" stroke="#000" stroke-width="0.69"/>
<circle cx="247.2" cy="454.8" r="4.17" fill="#bf00bf" stroke="#000" stroke-width="0.69"/>
<circle cx="235.0" cy="458.3" r="4.17" fill="#bf00bf" stroke="#000" stroke-width="0.69"/>
<circle cx="257.5" cy="457.3" r="4.17" fill="#bf00bf" stroke="#000" stroke-width="0.69"/>
<circle cx="258.2" cy="453.9" r="4.17" fill="#bf00bf" stroke="#000" stroke-width="0.69"/>
<circle cx="205.5" cy="457.4" r="4.17" fill="#bf00bf" stroke="#000" stroke-width="0.69"/>
<circle cx="205.2" cy="455.7" r="4.17" fill="#bf00bf" stroke="#000" stroke-width="0.69"/>
<circle cx="260.8" cy="458.2" r="4.17" fill="#bf00bf" stroke="#000" stroke-width="0.69"/>
<circle cx="210.3" cy="455.4" r="4.17" fill="#bf00bf" stroke="#000" stroke-width="0.69"/>
<circle cx="220.0" cy="457.8" r="4.17" fill="#bf00bf" stroke="#000" stroke-width="0.69"/>
<circle cx="233.7" cy="453.9" r="4.17" fill="#bf00bf" stroke="#000" stroke-width="0.69"/>
<circle cx="215.3" cy="456.7" r="4.17" fill="#bf00bf" stroke="#000" stroke-width="0.69"/>
<circle cx="262.1" cy="454.2" r="4.17" fill="#bf00bf" stroke="#000" stroke-width="0.69"/>
<circle cx="229.7" cy="458.3" r="4.17" fill="#bf00bf" stroke="#000" stroke-width="0.69"/>
<circle cx="238.8" cy="455.1" r="4.17" fill="#bf00bf" stroke="#000" stroke-width="0.69"/>
<circle cx="255.6" cy="457.8" r="4.17" fill="#bf00bf" stroke="#000" stroke-width="0.69"/>
<circle cx="225.3" cy="457.7" r="4.17" fill="#bf00bf" stroke="#000" stroke-width="0.69"/>
<circle cx="250.1" cy="455.0" r="4.17" fill="#bf00bf" stroke="#000" stroke-width="0.69"/>
<circle cx="262.4" cy="455.6" r="4.17" fill="#bf00bf" stroke="#000" stroke-width="0.69"/>
<circle cx="248.5" cy="458.8" r="4.17" fill="#bf00bf" stroke="#000" stroke-width="0.69"/>
<circle cx="235.9" cy="456.1" r="4.17" fill="#bf00bf" stroke="#000" stroke-width="0.69"/>
<circle cx="248.1" cy="454.1" r="4.17" fill="#bf00bf" stroke="#000" stroke-width="0.69"/>
<circle cx="200.8" cy="458.3" r="4.17" fill="#bf00bf" stroke="#000" stroke-width="0.69"/>
<circle cx="259.6" cy="457.5" r="4.17" fill="#bf00bf" stroke="#000" stroke-width="0.69"/>
<circle cx="240.9" cy="457.5" r="4.17" fill="#bf00bf" stroke="#000" stroke-width="0.69"/>
<circle cx="202.6" cy="454.4" r="4.17" fill="#bf00bf" stroke="#000" stroke-width="0.69"/>
<circle cx="227.4" cy="456.3" r="4.17" fill="#bf00bf" stroke="#000" stroke-width="0.69"/>
<circle cx="237.2" cy="455.1" r="4.17" fill="#bf00bf" stroke="#000" stroke-width="0.69"/>
<circle cx="214.6" cy="457.5" r="4.17" fill="#bf00bf" stroke="#000" stroke-width="0.69"/>
<circle cx="207.6" cy="454.7" r="4.17" fill="#bf00bf" stroke="#000" stroke-width="0.69"/>
<circle cx="242.4" cy="458.7" r="4.17" fill="#bf00bf" stroke="#000" stroke-width="0.69"/>
<circle cx="260.9" cy="454.8" r="4.17" fill="#bf00bf" stroke="#000" stroke-width="0.69"/>
<circle cx="229.5" cy="457.0" r="4.17" fill="#bf00bf" stroke="#000" stroke-width="0.69"/>
<circle cx="244.8" cy="456.1" r="4.17" fill="#bf00bf" stroke="#000" stroke-width="0.69"/>
<circle cx="214.4" cy="458.6" r="4.17" fill="#bf00bf" stroke="#000" stroke-width="0.69"/>
<circle cx="252.8" cy="457.4" r="4.17" fill="#bf00bf" stroke="#000" stroke-width="0.69"/>
<circle cx="262.7" cy="456.0" r="4.17" fill="#bf00bf" stroke="#000" stroke-width="0.69"/>
<circle cx="241.1" cy="455.8" r="4.17" fill="#bf00bf" stroke="#000" stroke-width="0.69"/>
<circle cx="227.7" cy="455.2" r="4.17" fill="#bf00bf" stroke="#000" stroke-width="0.69"/>
<circle cx="207.2" cy="457.8" r="4.17" fill="#bf00bf" stroke="#000" stroke-width="0.69"/>
<circle cx="257.8" cy="455.3" r="4.17" fill="#bf00bf" stroke="#000" stroke-width="0.69"/>
<circle cx="221.1" cy="457.7" r="4.17" fill="#bf00bf" stroke="#000" stroke-width="0.69"/>
<circle cx="254.2" cy="454.5" r="4.17" fill="#bf00bf" stroke="#000" stroke-width="0.69"/>
<circle cx="200.6" cy="457.5" r="4.17" fill="#bf00bf" stroke="#000" stroke-width="0.69"/>
<circle cx="224.3" cy="458.2" r="4.17" fill="#bf00bf" stroke="#000" stroke-width="0.69"/>
<circle cx="250.2" cy="457.5" r="4.17" fill="#bf00bf" stroke="#000" stroke-width="0.69"/>
<circle cx="208.2" cy="455.0" r="4.17" fill="#bf00bf" stroke="#000" stroke-width="0.69"/>
<circle cx="202.7" cy="457.7" r="4.17" fill="#bf00bf" stroke="#000" stroke-width="0.69"/>
<circle cx="217.9" cy="456.9" r="4.17" fill="#bf00bf" stroke="#000" stroke-width="0.69"/>
<circle cx="244.9" cy="454.7" r="4.17" fill="#bf00bf" stroke="#000" stroke-width="0.69"/>
<circle cx="224.9" cy="458.5" r="4.17" fill="#bf00bf" stroke="#000" stroke-width="0.69"/>
<circle cx="238.1" cy="457.0" r="4.17" fill="#bf00bf" stroke="#000" stroke-width="0.69"/>
<circle cx="243.7" cy="457.1" r="4.17" fill="#bf00bf" stroke="#000" stroke-width="0.69"/>
<circle cx="203.9" cy="454.8" r="4.17" fill="#bf00bf" stroke="#000" stroke-width="0.69"/>
<circle cx="209.2" cy="454.3" r="4.17" fill="#bf00bf" stroke="#000" stroke-width="0.69"/>
<circle cx="223.6" cy="455.9" r="4.17" fill="#bf00bf" stroke="#000" stroke-width="0.69"/>
<circle cx="212.3" cy="458.1" r="4.17" fill="#bf00bf" stroke="#000" stroke-width="0.69"/>
<circle cx="243.7" cy="455.3" r="4.17" fill="#bf00bf" stroke="#000" stroke-width="0.69"/>
<circle cx="217.8" cy="457.8" r="4.17" fill="#bf00bf" stroke="#000" stroke-width="0.69"/>
<circle cx="239.4" cy="453.7" r="4.17" fill="#bf00bf" stroke="#000" stroke-width="0.69"/>
<circle cx="244.4" cy="458.0" r="4.17" fill="#bf00bf" stroke="#000" stroke-width="0.69"/>
<circle cx="247.8" cy="458.3" r="4.17" fill="#bf00bf" stroke="#000" stroke-width="0.69"/>
<circle cx="252.2" cy="453.7" r="4.17" fill="#bf00bf" stroke="#000" stroke-width="0.69"/>
<circle cx="241.4" cy="456.7" r="4.17" fill="#bf00bf" stroke="#000" stroke-width="0.69"/>
<circle cx="221.1" cy="456.3" r="4.17" fill="#bf00bf" stroke="#000" stroke-width="0.69"/>
<circle cx="200.6" cy="458.1" r="4.17" fill="#bf00bf" stroke="#000" stroke-width="0.69"/>
<circle cx="218.5" cy="455.6" r="4.17" fill="#bf00bf" stroke="#000" stroke-width="0.69"/>
<circle cx="244.3" cy="455.6" r="4.17" fill="#bf00bf" stroke="#000" stroke-width="0.69"/>
<circle cx="261.7" cy="454.9" r="4.17" fill="#bf00bf" stroke="#000" stroke-width="0.69"/>
<circle cx="200.9" cy="454.3" r="4.17" fill="#bf00bf" stroke="#000" stroke-width="0.69"/>
<circle cx="211.0" cy="455.8" r="4.17" fill="#bf00bf" stroke="#000" stroke-width="0.69"/>
<circle cx="206.8" cy="456.4" r="4.17" fill="#bf00bf" stroke="#000" stroke-width="0.69"/>
<circle cx="207.0" cy="457.7" r="4.17" fill="#bf00bf" stroke="#000" stroke-width="0.69"/>
<circle cx="211.0" cy="457.2" r="4.17" fill="#bf00bf" stroke="#000" stroke-width="0.69"/>
<circle cx="230.8" cy="457.9" r="4.17" fill="#bf00bf" stroke="#000" stroke-width="0.69"/>
<circle cx="223.3" cy="455.6" r="4.17" fill="#bf00bf" stroke="#000" stroke-width="0.69"/>
<circle cx="261.3" cy="458.1" r="4.17" fill="#bf00bf" stroke="#000" stroke-width="0.69"/>
<circle cx="199.8" cy="454.1" r="4.17" fill="#bf00bf" stroke="#000" stroke-width="0.69"/>
<circle cx="253.1" cy="458.3" r="4.17" fill="#bf00bf" stroke="#000" stroke-width="0.69"/>
<circle cx="235.5" cy="454.4" r="4.17" fill="#bf00bf" stroke="#000" stroke-width="0.69"/>
<circle cx="214.5" cy="455.6" r="4.17" fill="#bf00bf" stroke="#000" stroke-width="0.69"/>
<circle cx="250.8" cy="453.6" r="4.17" fill="#bf00bf" stroke="#000" stroke-width="0.69"/>
<circle cx="260.1" cy="455.7" r="4.17" fill="#bf00bf" stroke="#000" stroke-width="0.69"/>
<circle cx="199.1" cy="453.9" r="4.17" fill="#bf00bf" stroke="#000" stroke-width="0.69"/>
<circle cx="261.2" cy="457.6" r="4.17" fill="#bf00bf" stroke="#000" stroke-width="0.69"/>
<circle cx="202.4" cy="455.8" r="4.17" fill="#bf00bf" stroke="#000" stroke-width="0.69"/>
<circle cx="206.8" cy="457.3" r="4.17" fill="#bf00bf" stroke="#000" stroke-width="0.69"/>
<circle cx="223.3" cy="457.3" r="4.17" fill="#bf00bf" stroke="#000" stroke-width="0.69"/>
<circle cx="206.9" cy="456.4" r="4.17" fill="#bf00bf" stroke="#000" stroke-width="0.69"/>
<circle cx="216.2" cy="454.3" r="4.17" fill="#bf00bf" stroke="#000" stroke-width="0.69"/>
<circle cx="238.4" cy="455.0" r="4.17" fill="#bf00bf" stroke="#000" stroke-width="0.69"/>
<circle cx="254.0" cy="458.7" r="4.17" fill="#bf00bf" stroke="#000" stroke-width="0.69"/>
<circle cx="213.8" cy="456.5" r="4.17" fill="#bf00bf" stroke="#000" stroke-width="0.69"/>
<circle cx="254.2" cy="454.3" r="4.17" fill="#bf00bf" stroke="#000" stroke-width="0.69"/>
<circle cx="259.1" cy="457.7" r="4.17" fill="#bf00bf" stroke="#000" stroke-width="0.69"/>
<circle cx="219.4" cy="456.8" r="4.17" fill="#bf00bf" stroke="#000" stroke-width="0.69"/>
<circle cx="243.9" cy="458.5" r="4.17" fill="#bf00bf" stroke="#000" stroke-width="0.69"/>
<circle cx="208.5" cy="454.9" r="4.17" fill="#bf00bf" stroke="#000" stroke-width="0.69"/>
<circle cx="216.1" cy="454.2" r="4.17" fill="#bf00bf" stroke="#000" stroke-width="0.69"/>
<circle cx="251.1" cy="456.0" r="4.17" fill="#bf00bf" stroke="#000" stroke-width="0.69"/>
<circle cx="202.1" cy="454.8" r="4.17" fill="#bf00bf" stroke="#000" stroke-width="0.69"/>
<circle cx="248.3" cy="458.8" r="4.17" fill="#bf00bf" stroke="#000" stroke-width="0.69"/>
<circle cx="262.0" cy="456.9" r="4.17" fill="#bf00bf" stroke="#000" stroke-width="0.69"/>
<circle cx="247.0" cy="458.9" r="4.17" fill="#bf00bf" stroke="#000" stroke-width="0.69"/>
<circle cx="250.7" cy="456.6" r="4.17" fill="#bf00bf" stroke="#000" stroke-width="0.69"/>
<circle cx="201.2" cy="457.5" r="4.17" fill="#bf00bf" stroke="#000" stroke-width="0.69"/>
<circle cx="204.2" cy="458.6" r="4.17" fill="#bf00bf" stroke="#000" stroke-width="0.69"/>
<circle cx="229.8" cy="458.4" r="4.17" fill="#bf00bf" stroke="#000" stroke-width="0.69"/>
<circle cx="235.1" cy="458.8" r="4.17" fill="#bf00bf" stroke="#000" stroke-width="0.69"/>
<circle cx="247.1" cy="454.3" r="4.17" fill="#bf00bf" stroke="#000" stroke-width="0.69"/>
<circle cx="216.1" cy="453.8" r="4.17" fill="#bf00bf" stroke="#000" stroke-width="0.69"/>
<circle cx="200.4" cy="454.2" r="4.17" fill="#bf00bf" stroke="#000" stroke-width="0.69"/>
<circle cx="225.5" cy="456.9" r="4.17" fill="#bf00bf" stroke="#000" stroke-width="0.69"/>
<circle cx="254.7" cy="457.4" r="4.17" fill="#bf00bf" stroke="#000" stroke-width="0.69"/>
<circle cx="227.6" cy="455.5" r="4.17" fill="#bf00bf" stroke="#000" stroke-width="0.69"/>
<circle cx="204.5" cy="454.8" r="4.17" fill="#bf00bf" stroke="#000" stroke-width="0.69"/>
<circle cx="239.6" cy="457.8" r="4.17" fill="#bf00bf" stroke="#000" stroke-width="0.69"/>
<circle cx="238.2" cy="457.5" r="4.17" fill="#bf00bf" stroke="#000" stroke-width="0.69"/>
<circle cx="229.9" cy="456.3" r="4.17" fill="#bf00bf" stroke="#000" stroke-width="0.69"/>
<circle cx="259.1" cy="458.6" r="4.17" fill="#bf00bf" stroke="#000" stroke-width="0.69"/>
<circle cx="258.8" cy="454.9" r="4.17" fill="#bf00bf" stroke="#000" stroke-width="0.69"/>
<circle cx="200.2" cy="457.4" r="4.17" fill="#bf00bf" stroke="#000" stroke-width="0.69"/>
<circle cx="253.2" cy="454.4" r="4.17" fill="#bf00bf" stroke="#000" stroke-width="0.69"/>
<circle cx="239.1" cy="455.9" r="4.17" fill="#bf00bf" stroke="#000" stroke-width="0.69"/>
<circle cx="244.6" cy="453.9" r="4.17" fill="#bf00bf" stroke="#000" stroke-width="0.69"/>
<circle cx="215.1" cy="454.4" r="4.17" fill="#bf00bf" stroke="#000" stroke-width="0.69"/>
<circle cx="251.8" cy="457.0" r="4.17" fill="#bf00bf" stroke="#000" stroke-width="0.69"/>
<circle cx="262.3" cy="458.2" r="4.17" fill="#bf00bf" stroke="#000" stroke-width="0.69"/>
<circle cx="239.3" cy="455.4" r="4.17" fill="#bf00bf" stroke="#000" stroke-width="0.69"/>
<circle cx="205.1" cy="458.5" r="4.17" fill="#bf00bf" stroke="#000" stroke-width="0.69"/>
<circle cx="241.1" cy="456.1" r="4.17" fill="#bf00bf" stroke="#000" stroke-width="0.69"/>
<circle cx="256.9" cy="455.8" r="4.17" fill="#bf00bf" stroke="#000" stroke-width="0.69"/>
<circle cx="252.5" cy="457.2" r="4.17" fill="#bf00bf" stroke="#000" stroke-width="0.69"/>
<circle cx="232.7" cy="458.8" r="4.17" fill="#bf00bf" stroke="#000" stroke-width="0.69"/>
<circle cx="211.1" cy="457.5" r="4.17" fill="#bf00bf" stroke="#000" stroke-width="0.69"/>
<circle cx="208.0" cy="457.3" r="4.17" fill="#bf00bf" stroke="#000" stroke-width="0.69"/>
<circle cx="236.6" cy="458.0" r="4.17" fill="#bf00bf" stroke="#000" stroke-width="0.69"/>
<circle cx="205.2" cy="455.0" r="4.17" fill="#bf00bf" stroke="#000" stroke-width="0.69"/>
<circle cx="227.5" cy="456.7" r="4.17" fill="#bf00bf" stroke="#000" stroke-width="0.69"/>
<circle cx="258.8" cy="455.2" r="4.17" fill="#bf00bf" stroke="#000" stroke-width="0.69"/>
<circle cx="234.0" cy="456.4" r="4.17" fill="#bf00bf" stroke="#000" stroke-width="0.69"/>
<circle cx="218.1" cy="455.4" r="4.17" fill="#bf00bf" stroke="#000" stroke-width="0.69"/>
<circle cx="211.3" cy="456.4" r="4.17" fill="#bf00bf" stroke="#000" stroke-width="0.69"/>
<circle cx="246.1" cy="455.6" r="4.17" fill="#bf00bf" stroke="#000" stroke-width="0.69"/>
<path d="M100.00 458.40H381.82" stroke="#0000ff" stroke-width="1.39" stroke-dasharray="8.33 8.33" fill="none"/>
<path d="M100.00 456.55H381.82" stroke="#ff0000" stroke-width="1.39" stroke-dasharray="8.33 8.33" fill="none"/>
<path d="M100.00 452.50H381.82" stroke="#0000ff" stroke-width="1.39" stroke-dasharray="4.17 6.94 1.39 6.94" fill="none"/>
<path d="M100.00 460.40H381.82" stroke="#0000ff" stroke-width="1.39" stroke-dasharray="4.17 6.94 1.39 6.94" fill="none"/>
</g>
<g font-family="'DejaVu Sans','Liberation Sans',sans-serif" fill="#000">
<rect x="438.18" y="257.19" width="213.06" height="64.41" fill="#0000ff" stroke="#000" stroke-width="1.39"/>
<rect x="438.18" y="192.75" width="69.89" height="64.44" fill="#0000ff" stroke="#000" stroke-width="1.39"/>
<rect x="438.18" y="128.34" width="4.51" height="64.41" fill="#0000ff" stroke="#000" stroke-width="1.39"/>
<rect x="438.18" y="63.90" width="2.37" height="64.44" fill="#0000ff" stroke="#000" stroke-width="1.39"/>
<path d="M438.18 291.00H694.07" stroke="#000" stroke-width="1.39" stroke-dasharray="8.33 8.33" fill="none"/>
<rect x="100.50" y="60.50" width="282.00" height="480.00" fill="none" stroke="#000" stroke-width="1.39"/>
<path d="M100.50 540.50v-6.06M137.50 540.50v-6.06M175.50 540.50v-6.06M212.50 540.50v-6.06M250.50 540.50v-6.06M288.50 540.50v-6.06M325.50 540.50v-6.06M363.50 540.50v-6.06" stroke="#000" stroke-width="0.85" fill="none"/>
<path d="M103.50 60.50v6.06M141.50 60.50v6.06M178.50 60.50v6.06M216.50 60.50v6.06M253.50 60.50v6.06M291.50 60.50v6.06M329.50 60.50v6.06M366.50 60.50v6.06" stroke="#000" stroke-width="0.85" fill="none"/>
<path d="M100.50 540.50h6.06M382.50 540.50h-6.06M100.50 420.50h6.06M382.50 420.50h-6.06M100.50 300.50h6.06M382.50 300.50h-6.06M100.50 180.50h6.06M382.50 180.50h-6.06M100.50 60.50h6.06M382.50 60.50h-6.06" stroke="#000" stroke-width="0.85" fill="none"/>
<rect x="438.50" y="60.50" width="282.00" height="480.00" fill="none" stroke="#000" stroke-width="1.39"/>
<path d="M438.50 540.50v-6.06M438.50 60.50v6.06M494.50 540.50v-6.06M494.50 60.50v6.06M551.50 540.50v-6.06M551.50 60.50v6.06M607.50 540.50v-6.06M607.50 60.50v6.06M663.50 540.50v-6.06M663.50 60.50v6.06M720.50 540.50v-6.06M720.50 60.50v6.06" stroke="#000" stroke-width="0.85" fill="none"/>
<path d="M438.50 540.50h6.06M720.50 540.50h-6.06M438.50 480.50h6.06M720.50 480.50h-6.06M438.50 420.50h6.06M720.50 420.50h-6.06M438.50 360.50h6.06M720.50 360.50h-6.06M438.50 300.50h6.06M720.50 300.50h-6.06M438.50 240.50h6.06M720.50 240.50h-6.06M438.50 180.50h6.06M720.50 180.50h-6.06M438.50 120.50h6.06M720.50 120.50h-6.06M438.50 60.50h6.06M720.50 60.50h-6.06" stroke="#000" stroke-width="0.85" fill="none"/>
<text transform="translate(100.00,559.90) scale(0.967,1.070)" font-size="16.67px" text-anchor="middle">−20</text>
<text transform="translate(137.58,559.90) scale(0.967,1.070)" font-size="16.67px" text-anchor="middle">−18</text>
<text transform="translate(175.15,559.90) scale(0.967,1.070)" font-size="16.67px" text-anchor="middle">−16</text>
<text transform="translate(212.73,559.90) scale(0.967,1.070)" font-size="16.67px" text-anchor="middle">−14</text>
<text transform="translate(250.30,559.90) scale(0.967,1.070)" font-size="16.67px" text-anchor="middle">−12</text>
<text transform="translate(287.88,559.90) scale(0.967,1.070)" font-size="16.67px" text-anchor="middle">−10</text>
<text transform="translate(325.46,559.90) scale(0.967,1.070)" font-size="16.67px" text-anchor="middle">−8</text>
<text transform="translate(363.03,559.90) scale(0.967,1.070)" font-size="16.67px" text-anchor="middle">−6</text>
<text transform="translate(103.38,50.00) scale(0.967,1.070)" font-size="16.67px" text-anchor="middle">10</text>
<text transform="translate(140.96,50.00) scale(0.967,1.070)" font-size="16.67px" text-anchor="middle">12</text>
<text transform="translate(178.53,50.00) scale(0.967,1.070)" font-size="16.67px" text-anchor="middle">14</text>
<text transform="translate(216.11,50.00) scale(0.967,1.070)" font-size="16.67px" text-anchor="middle">16</text>
<text transform="translate(253.69,50.00) scale(0.967,1.070)" font-size="16.67px" text-anchor="middle">18</text>
<text transform="translate(291.26,50.00) scale(0.967,1.070)" font-size="16.67px" text-anchor="middle">20</text>
<text transform="translate(328.84,50.00) scale(0.967,1.070)" font-size="16.67px" text-anchor="middle">22</text>
<text transform="translate(366.41,50.00) scale(0.967,1.070)" font-size="16.67px" text-anchor="middle">24</text>
<text transform="translate(94.84,544.60) scale(0.967,1.070)" font-size="16.67px" text-anchor="end">0</text>
<text transform="translate(94.84,424.60) scale(0.967,1.070)" font-size="16.67px" text-anchor="end">5</text>
<text transform="translate(94.84,304.60) scale(0.967,1.070)" font-size="16.67px" text-anchor="end">10</text>
<text transform="translate(94.84,184.60) scale(0.967,1.070)" font-size="16.67px" text-anchor="end">15</text>
<text transform="translate(94.84,64.60) scale(0.967,1.070)" font-size="16.67px" text-anchor="end">20</text>
<text transform="translate(438.18,559.90) scale(0.967,1.070)" font-size="16.67px" text-anchor="middle">0</text>
<text transform="translate(494.54,559.90) scale(0.967,1.070)" font-size="16.67px" text-anchor="middle">50</text>
<text transform="translate(550.91,559.90) scale(0.967,1.070)" font-size="16.67px" text-anchor="middle">100</text>
<text transform="translate(607.27,559.90) scale(0.967,1.070)" font-size="16.67px" text-anchor="middle">150</text>
<text transform="translate(663.64,559.90) scale(0.967,1.070)" font-size="16.67px" text-anchor="middle">200</text>
<text transform="translate(720.00,559.90) scale(0.967,1.070)" font-size="16.67px" text-anchor="middle">250</text>
<text transform="translate(433.02,544.60) scale(0.945,1.070)" font-size="16.67px" text-anchor="end">2.6</text>
<text transform="translate(433.02,484.60) scale(0.945,1.070)" font-size="16.67px" text-anchor="end">2.8</text>
<text transform="translate(433.02,424.60) scale(0.945,1.070)" font-size="16.67px" text-anchor="end">3.0</text>
<text transform="translate(433.02,364.60) scale(0.945,1.070)" font-size="16.67px" text-anchor="end">3.2</text>
<text transform="translate(433.02,304.60) scale(0.945,1.070)" font-size="16.67px" text-anchor="end">3.4</text>
<text transform="translate(433.02,244.60) scale(0.945,1.070)" font-size="16.67px" text-anchor="end">3.6</text>
<text transform="translate(433.02,184.60) scale(0.945,1.070)" font-size="16.67px" text-anchor="end">3.8</text>
<text transform="translate(433.02,124.60) scale(0.945,1.070)" font-size="16.67px" text-anchor="end">4.0</text>
<text transform="translate(433.02,64.60) scale(0.945,1.070)" font-size="16.67px" text-anchor="end">4.2</text>
<text transform="translate(241.91,583.00) scale(1.000,1.050)" font-size="16.67px" text-anchor="middle">magnitude (bottom:isnt / top:calib)</text>
<text transform="translate(579.59,583.00) scale(1.000,1.050)" font-size="16.67px" text-anchor="middle">number of sources</text>
<text transform="translate(64.50,300.00) rotate(-90) scale(1,1.05)" font-size="16.67px" text-anchor="middle">FWHM (pix)</text>
<text transform="translate(396.00,300.00) rotate(-90) scale(1,1.05)" font-size="16.67px" text-anchor="middle">FWHM of best-effort PSF-like sources</text>
<text x="226.90" y="28.75" font-size="20.00px" text-anchor="middle">FWHM vs magnitudes</text>
<text x="579.59" y="52.60" font-size="20.00px" text-anchor="middle">histogram of FWHM</text>
<rect x="27.50" y="70.50" width="345.00" height="179.50" fill="#fff" stroke="#000" stroke-width="1.39"/>
<use href="#pl" x="41.50" y="86.50" stroke="#00bfbf" stroke-width="0.69" fill="none"/>
<use href="#pl" x="69.50" y="86.50" stroke="#00bfbf" stroke-width="0.69" fill="none"/>
<text x="91.50" y="93.54" font-size="20.00px" text-anchor="start">all sample</text>
<use href="#xx" x="41.50" y="115.60" stroke="#0000ff" stroke-width="0.90" fill="none"/>
<use href="#xx" x="69.50" y="115.60" stroke="#0000ff" stroke-width="0.90" fill="none"/>
<text x="91.50" y="122.39" font-size="20.00px" text-anchor="start">sample for rough FWHM</text>
<use href="#oo" x="41.50" y="144.40" stroke="#000" stroke-width="0.69" fill="#bf00bf"/>
<use href="#oo" x="69.50" y="144.40" stroke="#000" stroke-width="0.69" fill="#bf00bf"/>
<text x="91.50" y="151.19" font-size="20.00px" text-anchor="start">best-effort PSF-like sample</text>
<path d="M41.50 173.30H69.50" stroke="#0000ff" stroke-width="1.39" stroke-dasharray="8.33 8.33" fill="none"/>
<text x="91.50" y="180.09" font-size="20.00px" text-anchor="start">resultant FWHM: 3.43</text>
<path d="M41.50 202.20H69.50" stroke="#ff0000" stroke-width="1.39" stroke-dasharray="8.33 8.33" fill="none"/>
<text x="91.50" y="208.99" font-size="20.00px" text-anchor="start">median FHWM of sequence</text>
<path d="M41.50 231.00H69.50" stroke="#0000ff" stroke-width="1.39" stroke-dasharray="4.17 6.94 1.39 6.94" fill="none"/>
<text x="91.50" y="237.79" font-size="20.00px" text-anchor="start">sigma range</text>
</g>
</svg>
</body></html>
